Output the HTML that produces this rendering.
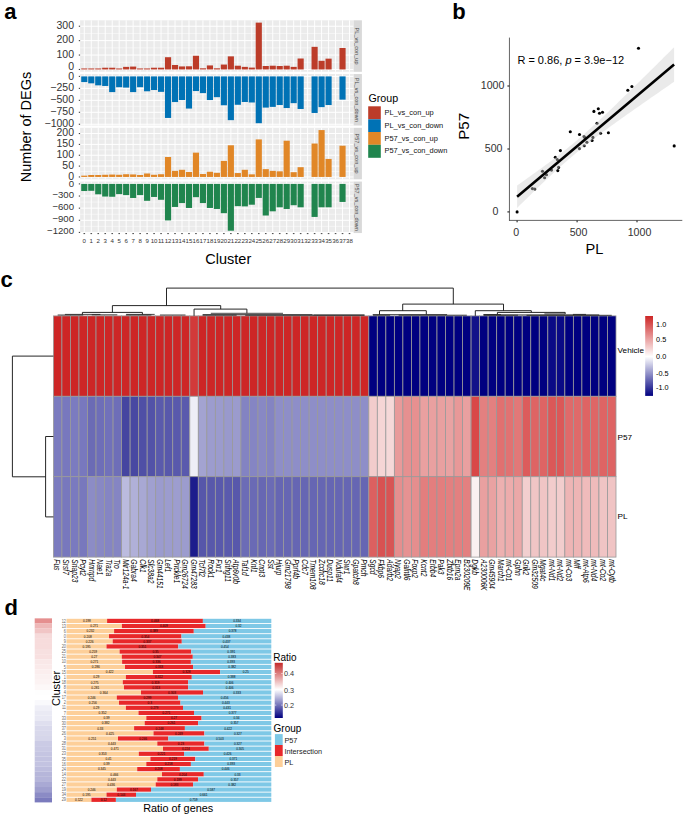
<!DOCTYPE html>
<html><head><meta charset="utf-8"><style>
html,body{margin:0;padding:0;background:#fff;}
svg{display:block;font-family:'Liberation Sans',sans-serif;}
</style></head><body>
<svg width="685" height="816" viewBox="0 0 685 816" style="font-family:'Liberation Sans',sans-serif">
<rect width="685" height="816" fill="#fff"/>
<rect x="80.1" y="20.3" width="273.6" height="51.5" fill="#EBEBEB"/>
<line x1="80.1" x2="353.7" y1="62.25" y2="62.25" stroke="#fff" stroke-width="0.5"/>
<line x1="80.1" x2="353.7" y1="47.84" y2="47.84" stroke="#fff" stroke-width="0.5"/>
<line x1="80.1" x2="353.7" y1="33.43" y2="33.43" stroke="#fff" stroke-width="0.5"/>
<line x1="80.1" x2="353.7" y1="69.46" y2="69.46" stroke="#fff" stroke-width="1.0"/>
<line x1="80.1" x2="353.7" y1="55.05" y2="55.05" stroke="#fff" stroke-width="1.0"/>
<line x1="80.1" x2="353.7" y1="40.64" y2="40.64" stroke="#fff" stroke-width="1.0"/>
<line x1="80.1" x2="353.7" y1="26.23" y2="26.23" stroke="#fff" stroke-width="1.0"/>
<line x1="84.29" x2="84.29" y1="20.3" y2="71.8" stroke="#fff" stroke-width="0.95"/>
<line x1="91.27" x2="91.27" y1="20.3" y2="71.8" stroke="#fff" stroke-width="0.95"/>
<line x1="98.25" x2="98.25" y1="20.3" y2="71.8" stroke="#fff" stroke-width="0.95"/>
<line x1="105.23" x2="105.23" y1="20.3" y2="71.8" stroke="#fff" stroke-width="0.95"/>
<line x1="112.21" x2="112.21" y1="20.3" y2="71.8" stroke="#fff" stroke-width="0.95"/>
<line x1="119.19" x2="119.19" y1="20.3" y2="71.8" stroke="#fff" stroke-width="0.95"/>
<line x1="126.17" x2="126.17" y1="20.3" y2="71.8" stroke="#fff" stroke-width="0.95"/>
<line x1="133.14" x2="133.14" y1="20.3" y2="71.8" stroke="#fff" stroke-width="0.95"/>
<line x1="140.12" x2="140.12" y1="20.3" y2="71.8" stroke="#fff" stroke-width="0.95"/>
<line x1="147.1" x2="147.1" y1="20.3" y2="71.8" stroke="#fff" stroke-width="0.95"/>
<line x1="154.08" x2="154.08" y1="20.3" y2="71.8" stroke="#fff" stroke-width="0.95"/>
<line x1="161.06" x2="161.06" y1="20.3" y2="71.8" stroke="#fff" stroke-width="0.95"/>
<line x1="168.04" x2="168.04" y1="20.3" y2="71.8" stroke="#fff" stroke-width="0.95"/>
<line x1="175.02" x2="175.02" y1="20.3" y2="71.8" stroke="#fff" stroke-width="0.95"/>
<line x1="182" x2="182" y1="20.3" y2="71.8" stroke="#fff" stroke-width="0.95"/>
<line x1="188.98" x2="188.98" y1="20.3" y2="71.8" stroke="#fff" stroke-width="0.95"/>
<line x1="195.96" x2="195.96" y1="20.3" y2="71.8" stroke="#fff" stroke-width="0.95"/>
<line x1="202.94" x2="202.94" y1="20.3" y2="71.8" stroke="#fff" stroke-width="0.95"/>
<line x1="209.92" x2="209.92" y1="20.3" y2="71.8" stroke="#fff" stroke-width="0.95"/>
<line x1="216.9" x2="216.9" y1="20.3" y2="71.8" stroke="#fff" stroke-width="0.95"/>
<line x1="223.88" x2="223.88" y1="20.3" y2="71.8" stroke="#fff" stroke-width="0.95"/>
<line x1="230.86" x2="230.86" y1="20.3" y2="71.8" stroke="#fff" stroke-width="0.95"/>
<line x1="237.84" x2="237.84" y1="20.3" y2="71.8" stroke="#fff" stroke-width="0.95"/>
<line x1="244.82" x2="244.82" y1="20.3" y2="71.8" stroke="#fff" stroke-width="0.95"/>
<line x1="251.8" x2="251.8" y1="20.3" y2="71.8" stroke="#fff" stroke-width="0.95"/>
<line x1="258.78" x2="258.78" y1="20.3" y2="71.8" stroke="#fff" stroke-width="0.95"/>
<line x1="265.76" x2="265.76" y1="20.3" y2="71.8" stroke="#fff" stroke-width="0.95"/>
<line x1="272.74" x2="272.74" y1="20.3" y2="71.8" stroke="#fff" stroke-width="0.95"/>
<line x1="279.72" x2="279.72" y1="20.3" y2="71.8" stroke="#fff" stroke-width="0.95"/>
<line x1="286.7" x2="286.7" y1="20.3" y2="71.8" stroke="#fff" stroke-width="0.95"/>
<line x1="293.68" x2="293.68" y1="20.3" y2="71.8" stroke="#fff" stroke-width="0.95"/>
<line x1="300.66" x2="300.66" y1="20.3" y2="71.8" stroke="#fff" stroke-width="0.95"/>
<line x1="307.63" x2="307.63" y1="20.3" y2="71.8" stroke="#fff" stroke-width="0.95"/>
<line x1="314.61" x2="314.61" y1="20.3" y2="71.8" stroke="#fff" stroke-width="0.95"/>
<line x1="321.59" x2="321.59" y1="20.3" y2="71.8" stroke="#fff" stroke-width="0.95"/>
<line x1="328.57" x2="328.57" y1="20.3" y2="71.8" stroke="#fff" stroke-width="0.95"/>
<line x1="335.55" x2="335.55" y1="20.3" y2="71.8" stroke="#fff" stroke-width="0.95"/>
<line x1="342.53" x2="342.53" y1="20.3" y2="71.8" stroke="#fff" stroke-width="0.95"/>
<line x1="349.51" x2="349.51" y1="20.3" y2="71.8" stroke="#fff" stroke-width="0.95"/>
<rect x="81.22" y="68.46" width="6.14" height="1" fill="#BC3C29"/>
<rect x="88.2" y="68.46" width="6.14" height="1" fill="#BC3C29"/>
<rect x="95.18" y="68.46" width="6.14" height="1" fill="#BC3C29"/>
<rect x="102.16" y="67.73" width="6.14" height="1.73" fill="#BC3C29"/>
<rect x="109.14" y="67.73" width="6.14" height="1.73" fill="#BC3C29"/>
<rect x="116.11" y="68.46" width="6.14" height="1" fill="#BC3C29"/>
<rect x="123.09" y="66.87" width="6.14" height="2.59" fill="#BC3C29"/>
<rect x="130.07" y="66.58" width="6.14" height="2.88" fill="#BC3C29"/>
<rect x="137.05" y="68.46" width="6.14" height="1" fill="#BC3C29"/>
<rect x="144.03" y="68.46" width="6.14" height="1" fill="#BC3C29"/>
<rect x="151.01" y="67.73" width="6.14" height="1.73" fill="#BC3C29"/>
<rect x="157.99" y="67.73" width="6.14" height="1.73" fill="#BC3C29"/>
<rect x="164.97" y="57.21" width="6.14" height="12.25" fill="#BC3C29"/>
<rect x="171.95" y="64.99" width="6.14" height="4.47" fill="#BC3C29"/>
<rect x="178.93" y="66.43" width="6.14" height="3.03" fill="#BC3C29"/>
<rect x="185.91" y="66.29" width="6.14" height="3.17" fill="#BC3C29"/>
<rect x="192.89" y="55.77" width="6.14" height="13.69" fill="#BC3C29"/>
<rect x="199.87" y="68.31" width="6.14" height="1.15" fill="#BC3C29"/>
<rect x="206.85" y="65.43" width="6.14" height="4.03" fill="#BC3C29"/>
<rect x="213.83" y="68.31" width="6.14" height="1.15" fill="#BC3C29"/>
<rect x="220.81" y="64.56" width="6.14" height="4.9" fill="#BC3C29"/>
<rect x="227.79" y="56.35" width="6.14" height="13.11" fill="#BC3C29"/>
<rect x="234.77" y="65.71" width="6.14" height="3.75" fill="#BC3C29"/>
<rect x="241.75" y="66.87" width="6.14" height="2.59" fill="#BC3C29"/>
<rect x="248.73" y="67.59" width="6.14" height="1.87" fill="#BC3C29"/>
<rect x="255.71" y="22.63" width="6.14" height="46.83" fill="#BC3C29"/>
<rect x="262.69" y="66" width="6.14" height="3.46" fill="#BC3C29"/>
<rect x="269.67" y="65.71" width="6.14" height="3.75" fill="#BC3C29"/>
<rect x="276.65" y="66" width="6.14" height="3.46" fill="#BC3C29"/>
<rect x="283.62" y="65.71" width="6.14" height="3.75" fill="#BC3C29"/>
<rect x="290.6" y="66.87" width="6.14" height="2.59" fill="#BC3C29"/>
<rect x="297.58" y="58.51" width="6.14" height="10.95" fill="#BC3C29"/>
<rect x="311.54" y="46.84" width="6.14" height="22.62" fill="#BC3C29"/>
<rect x="318.52" y="60.81" width="6.14" height="8.65" fill="#BC3C29"/>
<rect x="325.5" y="58.65" width="6.14" height="10.81" fill="#BC3C29"/>
<rect x="339.46" y="47.99" width="6.14" height="21.47" fill="#BC3C29"/>
<rect x="78.8" y="68.91" width="1.3" height="1.1" fill="#444"/>
<text x="74" y="70.23" font-size="10.5" text-anchor="end" fill="#333">0</text>
<rect x="78.8" y="54.5" width="1.3" height="1.1" fill="#444"/>
<text x="74" y="57.82" font-size="10.5" text-anchor="end" fill="#333">100</text>
<rect x="78.8" y="40.09" width="1.3" height="1.1" fill="#444"/>
<text x="74" y="43.41" font-size="10.5" text-anchor="end" fill="#333">200</text>
<rect x="78.8" y="25.68" width="1.3" height="1.1" fill="#444"/>
<text x="74" y="29" font-size="10.5" text-anchor="end" fill="#333">300</text>
<rect x="353.7" y="20.3" width="8.2" height="51.5" fill="#D9D9D9"/>
<text transform="translate(355.3,46.05) rotate(90) scale(1,1.1)" font-size="5.6" text-anchor="middle" fill="#4A4A4A">PL_vs_con_up</text>
<rect x="80.1" y="74.05" width="273.6" height="51.5" fill="#EBEBEB"/>
<line x1="80.1" x2="353.7" y1="82.37" y2="82.37" stroke="#fff" stroke-width="0.5"/>
<line x1="80.1" x2="353.7" y1="94.34" y2="94.34" stroke="#fff" stroke-width="0.5"/>
<line x1="80.1" x2="353.7" y1="106.31" y2="106.31" stroke="#fff" stroke-width="0.5"/>
<line x1="80.1" x2="353.7" y1="118.28" y2="118.28" stroke="#fff" stroke-width="0.5"/>
<line x1="80.1" x2="353.7" y1="76.39" y2="76.39" stroke="#fff" stroke-width="1.0"/>
<line x1="80.1" x2="353.7" y1="88.36" y2="88.36" stroke="#fff" stroke-width="1.0"/>
<line x1="80.1" x2="353.7" y1="100.33" y2="100.33" stroke="#fff" stroke-width="1.0"/>
<line x1="80.1" x2="353.7" y1="112.29" y2="112.29" stroke="#fff" stroke-width="1.0"/>
<line x1="80.1" x2="353.7" y1="124.26" y2="124.26" stroke="#fff" stroke-width="1.0"/>
<line x1="84.29" x2="84.29" y1="74.05" y2="125.55" stroke="#fff" stroke-width="0.95"/>
<line x1="91.27" x2="91.27" y1="74.05" y2="125.55" stroke="#fff" stroke-width="0.95"/>
<line x1="98.25" x2="98.25" y1="74.05" y2="125.55" stroke="#fff" stroke-width="0.95"/>
<line x1="105.23" x2="105.23" y1="74.05" y2="125.55" stroke="#fff" stroke-width="0.95"/>
<line x1="112.21" x2="112.21" y1="74.05" y2="125.55" stroke="#fff" stroke-width="0.95"/>
<line x1="119.19" x2="119.19" y1="74.05" y2="125.55" stroke="#fff" stroke-width="0.95"/>
<line x1="126.17" x2="126.17" y1="74.05" y2="125.55" stroke="#fff" stroke-width="0.95"/>
<line x1="133.14" x2="133.14" y1="74.05" y2="125.55" stroke="#fff" stroke-width="0.95"/>
<line x1="140.12" x2="140.12" y1="74.05" y2="125.55" stroke="#fff" stroke-width="0.95"/>
<line x1="147.1" x2="147.1" y1="74.05" y2="125.55" stroke="#fff" stroke-width="0.95"/>
<line x1="154.08" x2="154.08" y1="74.05" y2="125.55" stroke="#fff" stroke-width="0.95"/>
<line x1="161.06" x2="161.06" y1="74.05" y2="125.55" stroke="#fff" stroke-width="0.95"/>
<line x1="168.04" x2="168.04" y1="74.05" y2="125.55" stroke="#fff" stroke-width="0.95"/>
<line x1="175.02" x2="175.02" y1="74.05" y2="125.55" stroke="#fff" stroke-width="0.95"/>
<line x1="182" x2="182" y1="74.05" y2="125.55" stroke="#fff" stroke-width="0.95"/>
<line x1="188.98" x2="188.98" y1="74.05" y2="125.55" stroke="#fff" stroke-width="0.95"/>
<line x1="195.96" x2="195.96" y1="74.05" y2="125.55" stroke="#fff" stroke-width="0.95"/>
<line x1="202.94" x2="202.94" y1="74.05" y2="125.55" stroke="#fff" stroke-width="0.95"/>
<line x1="209.92" x2="209.92" y1="74.05" y2="125.55" stroke="#fff" stroke-width="0.95"/>
<line x1="216.9" x2="216.9" y1="74.05" y2="125.55" stroke="#fff" stroke-width="0.95"/>
<line x1="223.88" x2="223.88" y1="74.05" y2="125.55" stroke="#fff" stroke-width="0.95"/>
<line x1="230.86" x2="230.86" y1="74.05" y2="125.55" stroke="#fff" stroke-width="0.95"/>
<line x1="237.84" x2="237.84" y1="74.05" y2="125.55" stroke="#fff" stroke-width="0.95"/>
<line x1="244.82" x2="244.82" y1="74.05" y2="125.55" stroke="#fff" stroke-width="0.95"/>
<line x1="251.8" x2="251.8" y1="74.05" y2="125.55" stroke="#fff" stroke-width="0.95"/>
<line x1="258.78" x2="258.78" y1="74.05" y2="125.55" stroke="#fff" stroke-width="0.95"/>
<line x1="265.76" x2="265.76" y1="74.05" y2="125.55" stroke="#fff" stroke-width="0.95"/>
<line x1="272.74" x2="272.74" y1="74.05" y2="125.55" stroke="#fff" stroke-width="0.95"/>
<line x1="279.72" x2="279.72" y1="74.05" y2="125.55" stroke="#fff" stroke-width="0.95"/>
<line x1="286.7" x2="286.7" y1="74.05" y2="125.55" stroke="#fff" stroke-width="0.95"/>
<line x1="293.68" x2="293.68" y1="74.05" y2="125.55" stroke="#fff" stroke-width="0.95"/>
<line x1="300.66" x2="300.66" y1="74.05" y2="125.55" stroke="#fff" stroke-width="0.95"/>
<line x1="307.63" x2="307.63" y1="74.05" y2="125.55" stroke="#fff" stroke-width="0.95"/>
<line x1="314.61" x2="314.61" y1="74.05" y2="125.55" stroke="#fff" stroke-width="0.95"/>
<line x1="321.59" x2="321.59" y1="74.05" y2="125.55" stroke="#fff" stroke-width="0.95"/>
<line x1="328.57" x2="328.57" y1="74.05" y2="125.55" stroke="#fff" stroke-width="0.95"/>
<line x1="335.55" x2="335.55" y1="74.05" y2="125.55" stroke="#fff" stroke-width="0.95"/>
<line x1="342.53" x2="342.53" y1="74.05" y2="125.55" stroke="#fff" stroke-width="0.95"/>
<line x1="349.51" x2="349.51" y1="74.05" y2="125.55" stroke="#fff" stroke-width="0.95"/>
<rect x="81.22" y="76.39" width="6.14" height="5.7" fill="#0072B5"/>
<rect x="88.2" y="76.39" width="6.14" height="6.94" fill="#0072B5"/>
<rect x="95.18" y="76.39" width="6.14" height="8.95" fill="#0072B5"/>
<rect x="102.16" y="76.39" width="6.14" height="9.57" fill="#0072B5"/>
<rect x="109.14" y="76.39" width="6.14" height="15.7" fill="#0072B5"/>
<rect x="116.11" y="76.39" width="6.14" height="10.82" fill="#0072B5"/>
<rect x="123.09" y="76.39" width="6.14" height="11.2" fill="#0072B5"/>
<rect x="130.07" y="76.39" width="6.14" height="15.7" fill="#0072B5"/>
<rect x="137.05" y="76.39" width="6.14" height="10.82" fill="#0072B5"/>
<rect x="144.03" y="76.39" width="6.14" height="14.89" fill="#0072B5"/>
<rect x="151.01" y="76.39" width="6.14" height="13.64" fill="#0072B5"/>
<rect x="157.99" y="76.39" width="6.14" height="15.46" fill="#0072B5"/>
<rect x="164.97" y="76.39" width="6.14" height="41.55" fill="#0072B5"/>
<rect x="171.95" y="76.39" width="6.14" height="25.66" fill="#0072B5"/>
<rect x="178.93" y="76.39" width="6.14" height="23.65" fill="#0072B5"/>
<rect x="185.91" y="76.39" width="6.14" height="32.17" fill="#0072B5"/>
<rect x="192.89" y="76.39" width="6.14" height="14.65" fill="#0072B5"/>
<rect x="199.87" y="76.39" width="6.14" height="16.71" fill="#0072B5"/>
<rect x="206.85" y="76.39" width="6.14" height="23.65" fill="#0072B5"/>
<rect x="213.83" y="76.39" width="6.14" height="20.78" fill="#0072B5"/>
<rect x="220.81" y="76.39" width="6.14" height="28.87" fill="#0072B5"/>
<rect x="227.79" y="76.39" width="6.14" height="43.75" fill="#0072B5"/>
<rect x="234.77" y="76.39" width="6.14" height="28.39" fill="#0072B5"/>
<rect x="241.75" y="76.39" width="6.14" height="25.61" fill="#0072B5"/>
<rect x="248.73" y="76.39" width="6.14" height="26.09" fill="#0072B5"/>
<rect x="255.71" y="76.39" width="6.14" height="46.82" fill="#0072B5"/>
<rect x="262.69" y="76.39" width="6.14" height="31.21" fill="#0072B5"/>
<rect x="269.67" y="76.39" width="6.14" height="30.49" fill="#0072B5"/>
<rect x="276.65" y="76.39" width="6.14" height="28.63" fill="#0072B5"/>
<rect x="283.62" y="76.39" width="6.14" height="31.64" fill="#0072B5"/>
<rect x="290.6" y="76.39" width="6.14" height="26.76" fill="#0072B5"/>
<rect x="297.58" y="76.39" width="6.14" height="32.6" fill="#0072B5"/>
<rect x="311.54" y="76.39" width="6.14" height="36.57" fill="#0072B5"/>
<rect x="318.52" y="76.39" width="6.14" height="30.73" fill="#0072B5"/>
<rect x="325.5" y="76.39" width="6.14" height="28.63" fill="#0072B5"/>
<rect x="339.46" y="76.39" width="6.14" height="23.26" fill="#0072B5"/>
<rect x="78.8" y="75.84" width="1.3" height="1.1" fill="#444"/>
<text x="74" y="79.81" font-size="10.5" text-anchor="end" fill="#333">0</text>
<rect x="78.8" y="87.81" width="1.3" height="1.1" fill="#444"/>
<text x="74" y="91.13" font-size="10.5" text-anchor="end" fill="#333">−250</text>
<rect x="78.8" y="99.78" width="1.3" height="1.1" fill="#444"/>
<text x="74" y="103.1" font-size="10.5" text-anchor="end" fill="#333">−500</text>
<rect x="78.8" y="111.74" width="1.3" height="1.1" fill="#444"/>
<text x="74" y="115.06" font-size="10.5" text-anchor="end" fill="#333">−750</text>
<rect x="78.8" y="123.71" width="1.3" height="1.1" fill="#444"/>
<text x="74" y="127.03" font-size="10.5" text-anchor="end" fill="#333">−1000</text>
<rect x="353.7" y="74.05" width="8.2" height="51.5" fill="#D9D9D9"/>
<text transform="translate(355.3,99.8) rotate(90) scale(1,1.1)" font-size="5.6" text-anchor="middle" fill="#4A4A4A">PL_vs_con_down</text>
<rect x="80.1" y="127.8" width="273.6" height="51.5" fill="#EBEBEB"/>
<line x1="80.1" x2="353.7" y1="171.52" y2="171.52" stroke="#fff" stroke-width="0.5"/>
<line x1="80.1" x2="353.7" y1="160.67" y2="160.67" stroke="#fff" stroke-width="0.5"/>
<line x1="80.1" x2="353.7" y1="149.82" y2="149.82" stroke="#fff" stroke-width="0.5"/>
<line x1="80.1" x2="353.7" y1="138.97" y2="138.97" stroke="#fff" stroke-width="0.5"/>
<line x1="80.1" x2="353.7" y1="176.95" y2="176.95" stroke="#fff" stroke-width="1.0"/>
<line x1="80.1" x2="353.7" y1="166.1" y2="166.1" stroke="#fff" stroke-width="1.0"/>
<line x1="80.1" x2="353.7" y1="155.25" y2="155.25" stroke="#fff" stroke-width="1.0"/>
<line x1="80.1" x2="353.7" y1="144.4" y2="144.4" stroke="#fff" stroke-width="1.0"/>
<line x1="80.1" x2="353.7" y1="133.55" y2="133.55" stroke="#fff" stroke-width="1.0"/>
<line x1="84.29" x2="84.29" y1="127.8" y2="179.3" stroke="#fff" stroke-width="0.95"/>
<line x1="91.27" x2="91.27" y1="127.8" y2="179.3" stroke="#fff" stroke-width="0.95"/>
<line x1="98.25" x2="98.25" y1="127.8" y2="179.3" stroke="#fff" stroke-width="0.95"/>
<line x1="105.23" x2="105.23" y1="127.8" y2="179.3" stroke="#fff" stroke-width="0.95"/>
<line x1="112.21" x2="112.21" y1="127.8" y2="179.3" stroke="#fff" stroke-width="0.95"/>
<line x1="119.19" x2="119.19" y1="127.8" y2="179.3" stroke="#fff" stroke-width="0.95"/>
<line x1="126.17" x2="126.17" y1="127.8" y2="179.3" stroke="#fff" stroke-width="0.95"/>
<line x1="133.14" x2="133.14" y1="127.8" y2="179.3" stroke="#fff" stroke-width="0.95"/>
<line x1="140.12" x2="140.12" y1="127.8" y2="179.3" stroke="#fff" stroke-width="0.95"/>
<line x1="147.1" x2="147.1" y1="127.8" y2="179.3" stroke="#fff" stroke-width="0.95"/>
<line x1="154.08" x2="154.08" y1="127.8" y2="179.3" stroke="#fff" stroke-width="0.95"/>
<line x1="161.06" x2="161.06" y1="127.8" y2="179.3" stroke="#fff" stroke-width="0.95"/>
<line x1="168.04" x2="168.04" y1="127.8" y2="179.3" stroke="#fff" stroke-width="0.95"/>
<line x1="175.02" x2="175.02" y1="127.8" y2="179.3" stroke="#fff" stroke-width="0.95"/>
<line x1="182" x2="182" y1="127.8" y2="179.3" stroke="#fff" stroke-width="0.95"/>
<line x1="188.98" x2="188.98" y1="127.8" y2="179.3" stroke="#fff" stroke-width="0.95"/>
<line x1="195.96" x2="195.96" y1="127.8" y2="179.3" stroke="#fff" stroke-width="0.95"/>
<line x1="202.94" x2="202.94" y1="127.8" y2="179.3" stroke="#fff" stroke-width="0.95"/>
<line x1="209.92" x2="209.92" y1="127.8" y2="179.3" stroke="#fff" stroke-width="0.95"/>
<line x1="216.9" x2="216.9" y1="127.8" y2="179.3" stroke="#fff" stroke-width="0.95"/>
<line x1="223.88" x2="223.88" y1="127.8" y2="179.3" stroke="#fff" stroke-width="0.95"/>
<line x1="230.86" x2="230.86" y1="127.8" y2="179.3" stroke="#fff" stroke-width="0.95"/>
<line x1="237.84" x2="237.84" y1="127.8" y2="179.3" stroke="#fff" stroke-width="0.95"/>
<line x1="244.82" x2="244.82" y1="127.8" y2="179.3" stroke="#fff" stroke-width="0.95"/>
<line x1="251.8" x2="251.8" y1="127.8" y2="179.3" stroke="#fff" stroke-width="0.95"/>
<line x1="258.78" x2="258.78" y1="127.8" y2="179.3" stroke="#fff" stroke-width="0.95"/>
<line x1="265.76" x2="265.76" y1="127.8" y2="179.3" stroke="#fff" stroke-width="0.95"/>
<line x1="272.74" x2="272.74" y1="127.8" y2="179.3" stroke="#fff" stroke-width="0.95"/>
<line x1="279.72" x2="279.72" y1="127.8" y2="179.3" stroke="#fff" stroke-width="0.95"/>
<line x1="286.7" x2="286.7" y1="127.8" y2="179.3" stroke="#fff" stroke-width="0.95"/>
<line x1="293.68" x2="293.68" y1="127.8" y2="179.3" stroke="#fff" stroke-width="0.95"/>
<line x1="300.66" x2="300.66" y1="127.8" y2="179.3" stroke="#fff" stroke-width="0.95"/>
<line x1="307.63" x2="307.63" y1="127.8" y2="179.3" stroke="#fff" stroke-width="0.95"/>
<line x1="314.61" x2="314.61" y1="127.8" y2="179.3" stroke="#fff" stroke-width="0.95"/>
<line x1="321.59" x2="321.59" y1="127.8" y2="179.3" stroke="#fff" stroke-width="0.95"/>
<line x1="328.57" x2="328.57" y1="127.8" y2="179.3" stroke="#fff" stroke-width="0.95"/>
<line x1="335.55" x2="335.55" y1="127.8" y2="179.3" stroke="#fff" stroke-width="0.95"/>
<line x1="342.53" x2="342.53" y1="127.8" y2="179.3" stroke="#fff" stroke-width="0.95"/>
<line x1="349.51" x2="349.51" y1="127.8" y2="179.3" stroke="#fff" stroke-width="0.95"/>
<rect x="81.22" y="175.65" width="6.14" height="1.3" fill="#E18727"/>
<rect x="88.2" y="175" width="6.14" height="1.95" fill="#E18727"/>
<rect x="95.18" y="175" width="6.14" height="1.95" fill="#E18727"/>
<rect x="102.16" y="174.78" width="6.14" height="2.17" fill="#E18727"/>
<rect x="109.14" y="174.56" width="6.14" height="2.39" fill="#E18727"/>
<rect x="116.11" y="174.78" width="6.14" height="2.17" fill="#E18727"/>
<rect x="123.09" y="174.24" width="6.14" height="2.71" fill="#E18727"/>
<rect x="130.07" y="174.45" width="6.14" height="2.5" fill="#E18727"/>
<rect x="137.05" y="175" width="6.14" height="1.95" fill="#E18727"/>
<rect x="144.03" y="173.48" width="6.14" height="3.47" fill="#E18727"/>
<rect x="151.01" y="174.78" width="6.14" height="2.17" fill="#E18727"/>
<rect x="157.99" y="174.24" width="6.14" height="2.71" fill="#E18727"/>
<rect x="164.97" y="156.99" width="6.14" height="19.96" fill="#E18727"/>
<rect x="171.95" y="170.87" width="6.14" height="6.08" fill="#E18727"/>
<rect x="178.93" y="169.79" width="6.14" height="7.16" fill="#E18727"/>
<rect x="185.91" y="171.96" width="6.14" height="4.99" fill="#E18727"/>
<rect x="192.89" y="152.65" width="6.14" height="24.3" fill="#E18727"/>
<rect x="199.87" y="174.02" width="6.14" height="2.93" fill="#E18727"/>
<rect x="206.85" y="171.74" width="6.14" height="5.21" fill="#E18727"/>
<rect x="213.83" y="172.83" width="6.14" height="4.12" fill="#E18727"/>
<rect x="220.81" y="160.89" width="6.14" height="16.06" fill="#E18727"/>
<rect x="227.79" y="145.27" width="6.14" height="31.68" fill="#E18727"/>
<rect x="234.77" y="173.04" width="6.14" height="3.91" fill="#E18727"/>
<rect x="241.75" y="169.79" width="6.14" height="7.16" fill="#E18727"/>
<rect x="248.73" y="174.35" width="6.14" height="2.6" fill="#E18727"/>
<rect x="255.71" y="139.41" width="6.14" height="37.54" fill="#E18727"/>
<rect x="262.69" y="169.14" width="6.14" height="7.81" fill="#E18727"/>
<rect x="269.67" y="170.87" width="6.14" height="6.08" fill="#E18727"/>
<rect x="276.65" y="171.31" width="6.14" height="5.64" fill="#E18727"/>
<rect x="283.62" y="140.71" width="6.14" height="36.24" fill="#E18727"/>
<rect x="290.6" y="172.18" width="6.14" height="4.77" fill="#E18727"/>
<rect x="297.58" y="167.19" width="6.14" height="9.77" fill="#E18727"/>
<rect x="311.54" y="143.53" width="6.14" height="33.42" fill="#E18727"/>
<rect x="318.52" y="130.08" width="6.14" height="46.87" fill="#E18727"/>
<rect x="325.5" y="158.94" width="6.14" height="18.01" fill="#E18727"/>
<rect x="339.46" y="145.7" width="6.14" height="31.25" fill="#E18727"/>
<rect x="78.8" y="176.4" width="1.3" height="1.1" fill="#444"/>
<text x="74" y="179.72" font-size="10.5" text-anchor="end" fill="#333">0</text>
<rect x="78.8" y="165.55" width="1.3" height="1.1" fill="#444"/>
<text x="74" y="168.87" font-size="10.5" text-anchor="end" fill="#333">50</text>
<rect x="78.8" y="154.7" width="1.3" height="1.1" fill="#444"/>
<text x="74" y="158.02" font-size="10.5" text-anchor="end" fill="#333">100</text>
<rect x="78.8" y="143.85" width="1.3" height="1.1" fill="#444"/>
<text x="74" y="147.17" font-size="10.5" text-anchor="end" fill="#333">150</text>
<rect x="78.8" y="133" width="1.3" height="1.1" fill="#444"/>
<text x="74" y="136.32" font-size="10.5" text-anchor="end" fill="#333">200</text>
<rect x="353.7" y="127.8" width="8.2" height="51.5" fill="#D9D9D9"/>
<text transform="translate(355.3,153.55) rotate(90) scale(1,1.1)" font-size="5.6" text-anchor="middle" fill="#4A4A4A">P57_vs_con_up</text>
<rect x="80.1" y="181.55" width="273.6" height="51.5" fill="#EBEBEB"/>
<line x1="80.1" x2="353.7" y1="189.96" y2="189.96" stroke="#fff" stroke-width="0.5"/>
<line x1="80.1" x2="353.7" y1="202.09" y2="202.09" stroke="#fff" stroke-width="0.5"/>
<line x1="80.1" x2="353.7" y1="214.22" y2="214.22" stroke="#fff" stroke-width="0.5"/>
<line x1="80.1" x2="353.7" y1="226.35" y2="226.35" stroke="#fff" stroke-width="0.5"/>
<line x1="80.1" x2="353.7" y1="183.9" y2="183.9" stroke="#fff" stroke-width="1.0"/>
<line x1="80.1" x2="353.7" y1="196.03" y2="196.03" stroke="#fff" stroke-width="1.0"/>
<line x1="80.1" x2="353.7" y1="208.16" y2="208.16" stroke="#fff" stroke-width="1.0"/>
<line x1="80.1" x2="353.7" y1="220.29" y2="220.29" stroke="#fff" stroke-width="1.0"/>
<line x1="80.1" x2="353.7" y1="232.42" y2="232.42" stroke="#fff" stroke-width="1.0"/>
<line x1="84.29" x2="84.29" y1="181.55" y2="233.05" stroke="#fff" stroke-width="0.95"/>
<line x1="91.27" x2="91.27" y1="181.55" y2="233.05" stroke="#fff" stroke-width="0.95"/>
<line x1="98.25" x2="98.25" y1="181.55" y2="233.05" stroke="#fff" stroke-width="0.95"/>
<line x1="105.23" x2="105.23" y1="181.55" y2="233.05" stroke="#fff" stroke-width="0.95"/>
<line x1="112.21" x2="112.21" y1="181.55" y2="233.05" stroke="#fff" stroke-width="0.95"/>
<line x1="119.19" x2="119.19" y1="181.55" y2="233.05" stroke="#fff" stroke-width="0.95"/>
<line x1="126.17" x2="126.17" y1="181.55" y2="233.05" stroke="#fff" stroke-width="0.95"/>
<line x1="133.14" x2="133.14" y1="181.55" y2="233.05" stroke="#fff" stroke-width="0.95"/>
<line x1="140.12" x2="140.12" y1="181.55" y2="233.05" stroke="#fff" stroke-width="0.95"/>
<line x1="147.1" x2="147.1" y1="181.55" y2="233.05" stroke="#fff" stroke-width="0.95"/>
<line x1="154.08" x2="154.08" y1="181.55" y2="233.05" stroke="#fff" stroke-width="0.95"/>
<line x1="161.06" x2="161.06" y1="181.55" y2="233.05" stroke="#fff" stroke-width="0.95"/>
<line x1="168.04" x2="168.04" y1="181.55" y2="233.05" stroke="#fff" stroke-width="0.95"/>
<line x1="175.02" x2="175.02" y1="181.55" y2="233.05" stroke="#fff" stroke-width="0.95"/>
<line x1="182" x2="182" y1="181.55" y2="233.05" stroke="#fff" stroke-width="0.95"/>
<line x1="188.98" x2="188.98" y1="181.55" y2="233.05" stroke="#fff" stroke-width="0.95"/>
<line x1="195.96" x2="195.96" y1="181.55" y2="233.05" stroke="#fff" stroke-width="0.95"/>
<line x1="202.94" x2="202.94" y1="181.55" y2="233.05" stroke="#fff" stroke-width="0.95"/>
<line x1="209.92" x2="209.92" y1="181.55" y2="233.05" stroke="#fff" stroke-width="0.95"/>
<line x1="216.9" x2="216.9" y1="181.55" y2="233.05" stroke="#fff" stroke-width="0.95"/>
<line x1="223.88" x2="223.88" y1="181.55" y2="233.05" stroke="#fff" stroke-width="0.95"/>
<line x1="230.86" x2="230.86" y1="181.55" y2="233.05" stroke="#fff" stroke-width="0.95"/>
<line x1="237.84" x2="237.84" y1="181.55" y2="233.05" stroke="#fff" stroke-width="0.95"/>
<line x1="244.82" x2="244.82" y1="181.55" y2="233.05" stroke="#fff" stroke-width="0.95"/>
<line x1="251.8" x2="251.8" y1="181.55" y2="233.05" stroke="#fff" stroke-width="0.95"/>
<line x1="258.78" x2="258.78" y1="181.55" y2="233.05" stroke="#fff" stroke-width="0.95"/>
<line x1="265.76" x2="265.76" y1="181.55" y2="233.05" stroke="#fff" stroke-width="0.95"/>
<line x1="272.74" x2="272.74" y1="181.55" y2="233.05" stroke="#fff" stroke-width="0.95"/>
<line x1="279.72" x2="279.72" y1="181.55" y2="233.05" stroke="#fff" stroke-width="0.95"/>
<line x1="286.7" x2="286.7" y1="181.55" y2="233.05" stroke="#fff" stroke-width="0.95"/>
<line x1="293.68" x2="293.68" y1="181.55" y2="233.05" stroke="#fff" stroke-width="0.95"/>
<line x1="300.66" x2="300.66" y1="181.55" y2="233.05" stroke="#fff" stroke-width="0.95"/>
<line x1="307.63" x2="307.63" y1="181.55" y2="233.05" stroke="#fff" stroke-width="0.95"/>
<line x1="314.61" x2="314.61" y1="181.55" y2="233.05" stroke="#fff" stroke-width="0.95"/>
<line x1="321.59" x2="321.59" y1="181.55" y2="233.05" stroke="#fff" stroke-width="0.95"/>
<line x1="328.57" x2="328.57" y1="181.55" y2="233.05" stroke="#fff" stroke-width="0.95"/>
<line x1="335.55" x2="335.55" y1="181.55" y2="233.05" stroke="#fff" stroke-width="0.95"/>
<line x1="342.53" x2="342.53" y1="181.55" y2="233.05" stroke="#fff" stroke-width="0.95"/>
<line x1="349.51" x2="349.51" y1="181.55" y2="233.05" stroke="#fff" stroke-width="0.95"/>
<rect x="81.22" y="183.9" width="6.14" height="7.12" fill="#20854E"/>
<rect x="88.2" y="183.9" width="6.14" height="6.91" fill="#20854E"/>
<rect x="95.18" y="183.9" width="6.14" height="10.39" fill="#20854E"/>
<rect x="102.16" y="183.9" width="6.14" height="12.65" fill="#20854E"/>
<rect x="109.14" y="183.9" width="6.14" height="12.86" fill="#20854E"/>
<rect x="116.11" y="183.9" width="6.14" height="10.19" fill="#20854E"/>
<rect x="123.09" y="183.9" width="6.14" height="11.2" fill="#20854E"/>
<rect x="130.07" y="183.9" width="6.14" height="14.07" fill="#20854E"/>
<rect x="137.05" y="183.9" width="6.14" height="11.2" fill="#20854E"/>
<rect x="144.03" y="183.9" width="6.14" height="16.9" fill="#20854E"/>
<rect x="151.01" y="183.9" width="6.14" height="13.06" fill="#20854E"/>
<rect x="157.99" y="183.9" width="6.14" height="15.89" fill="#20854E"/>
<rect x="164.97" y="183.9" width="6.14" height="36.51" fill="#20854E"/>
<rect x="171.95" y="183.9" width="6.14" height="23.05" fill="#20854E"/>
<rect x="178.93" y="183.9" width="6.14" height="19.16" fill="#20854E"/>
<rect x="185.91" y="183.9" width="6.14" height="24.06" fill="#20854E"/>
<rect x="192.89" y="183.9" width="6.14" height="13.26" fill="#20854E"/>
<rect x="199.87" y="183.9" width="6.14" height="19.16" fill="#20854E"/>
<rect x="206.85" y="183.9" width="6.14" height="24.06" fill="#20854E"/>
<rect x="213.83" y="183.9" width="6.14" height="25.07" fill="#20854E"/>
<rect x="220.81" y="183.9" width="6.14" height="29.27" fill="#20854E"/>
<rect x="227.79" y="183.9" width="6.14" height="46.82" fill="#20854E"/>
<rect x="234.77" y="183.9" width="6.14" height="22.24" fill="#20854E"/>
<rect x="241.75" y="183.9" width="6.14" height="22.48" fill="#20854E"/>
<rect x="248.73" y="183.9" width="6.14" height="20.82" fill="#20854E"/>
<rect x="255.71" y="183.9" width="6.14" height="14.03" fill="#20854E"/>
<rect x="262.69" y="183.9" width="6.14" height="31.62" fill="#20854E"/>
<rect x="269.67" y="183.9" width="6.14" height="27.41" fill="#20854E"/>
<rect x="276.65" y="183.9" width="6.14" height="23.41" fill="#20854E"/>
<rect x="283.62" y="183.9" width="6.14" height="25.07" fill="#20854E"/>
<rect x="290.6" y="183.9" width="6.14" height="21.31" fill="#20854E"/>
<rect x="297.58" y="183.9" width="6.14" height="23.41" fill="#20854E"/>
<rect x="311.54" y="183.9" width="6.14" height="33.03" fill="#20854E"/>
<rect x="318.52" y="183.9" width="6.14" height="23.41" fill="#20854E"/>
<rect x="325.5" y="183.9" width="6.14" height="23.41" fill="#20854E"/>
<rect x="339.46" y="183.9" width="6.14" height="18.03" fill="#20854E"/>
<rect x="78.8" y="183.35" width="1.3" height="1.1" fill="#444"/>
<text x="74" y="186.93" font-size="9.6" text-anchor="end" fill="#333">0</text>
<rect x="78.8" y="195.48" width="1.3" height="1.1" fill="#444"/>
<text x="74" y="197.76" font-size="9.6" text-anchor="end" fill="#333">−300</text>
<rect x="78.8" y="207.61" width="1.3" height="1.1" fill="#444"/>
<text x="74" y="209.89" font-size="9.6" text-anchor="end" fill="#333">−600</text>
<rect x="78.8" y="219.74" width="1.3" height="1.1" fill="#444"/>
<text x="74" y="222.02" font-size="9.6" text-anchor="end" fill="#333">−900</text>
<rect x="78.8" y="231.87" width="1.3" height="1.1" fill="#444"/>
<text x="74" y="234.15" font-size="9.6" text-anchor="end" fill="#333">−1200</text>
<rect x="353.7" y="181.55" width="8.2" height="51.5" fill="#D9D9D9"/>
<text transform="translate(355.3,207.3) rotate(90) scale(1,1.1)" font-size="5.6" text-anchor="middle" fill="#4A4A4A">P57_vs_con_down</text>
<rect x="83.49" y="233.1" width="1.6" height="1.0" fill="#444"/>
<text x="84.29" y="243.1" font-size="6.1" text-anchor="middle" fill="#333">0</text>
<rect x="90.47" y="233.1" width="1.6" height="1.0" fill="#444"/>
<text x="91.27" y="243.1" font-size="6.1" text-anchor="middle" fill="#333">1</text>
<rect x="97.45" y="233.1" width="1.6" height="1.0" fill="#444"/>
<text x="98.25" y="243.1" font-size="6.1" text-anchor="middle" fill="#333">2</text>
<rect x="104.43" y="233.1" width="1.6" height="1.0" fill="#444"/>
<text x="105.23" y="243.1" font-size="6.1" text-anchor="middle" fill="#333">3</text>
<rect x="111.41" y="233.1" width="1.6" height="1.0" fill="#444"/>
<text x="112.21" y="243.1" font-size="6.1" text-anchor="middle" fill="#333">4</text>
<rect x="118.39" y="233.1" width="1.6" height="1.0" fill="#444"/>
<text x="119.19" y="243.1" font-size="6.1" text-anchor="middle" fill="#333">5</text>
<rect x="125.37" y="233.1" width="1.6" height="1.0" fill="#444"/>
<text x="126.17" y="243.1" font-size="6.1" text-anchor="middle" fill="#333">6</text>
<rect x="132.34" y="233.1" width="1.6" height="1.0" fill="#444"/>
<text x="133.14" y="243.1" font-size="6.1" text-anchor="middle" fill="#333">7</text>
<rect x="139.32" y="233.1" width="1.6" height="1.0" fill="#444"/>
<text x="140.12" y="243.1" font-size="6.1" text-anchor="middle" fill="#333">8</text>
<rect x="146.3" y="233.1" width="1.6" height="1.0" fill="#444"/>
<text x="147.1" y="243.1" font-size="6.1" text-anchor="middle" fill="#333">9</text>
<rect x="153.28" y="233.1" width="1.6" height="1.0" fill="#444"/>
<text x="154.08" y="243.1" font-size="6.1" text-anchor="middle" fill="#333">10</text>
<rect x="160.26" y="233.1" width="1.6" height="1.0" fill="#444"/>
<text x="161.06" y="243.1" font-size="6.1" text-anchor="middle" fill="#333">11</text>
<rect x="167.24" y="233.1" width="1.6" height="1.0" fill="#444"/>
<text x="168.04" y="243.1" font-size="6.1" text-anchor="middle" fill="#333">12</text>
<rect x="174.22" y="233.1" width="1.6" height="1.0" fill="#444"/>
<text x="175.02" y="243.1" font-size="6.1" text-anchor="middle" fill="#333">13</text>
<rect x="181.2" y="233.1" width="1.6" height="1.0" fill="#444"/>
<text x="182" y="243.1" font-size="6.1" text-anchor="middle" fill="#333">14</text>
<rect x="188.18" y="233.1" width="1.6" height="1.0" fill="#444"/>
<text x="188.98" y="243.1" font-size="6.1" text-anchor="middle" fill="#333">15</text>
<rect x="195.16" y="233.1" width="1.6" height="1.0" fill="#444"/>
<text x="195.96" y="243.1" font-size="6.1" text-anchor="middle" fill="#333">16</text>
<rect x="202.14" y="233.1" width="1.6" height="1.0" fill="#444"/>
<text x="202.94" y="243.1" font-size="6.1" text-anchor="middle" fill="#333">17</text>
<rect x="209.12" y="233.1" width="1.6" height="1.0" fill="#444"/>
<text x="209.92" y="243.1" font-size="6.1" text-anchor="middle" fill="#333">18</text>
<rect x="216.1" y="233.1" width="1.6" height="1.0" fill="#444"/>
<text x="216.9" y="243.1" font-size="6.1" text-anchor="middle" fill="#333">19</text>
<rect x="223.08" y="233.1" width="1.6" height="1.0" fill="#444"/>
<text x="223.88" y="243.1" font-size="6.1" text-anchor="middle" fill="#333">20</text>
<rect x="230.06" y="233.1" width="1.6" height="1.0" fill="#444"/>
<text x="230.86" y="243.1" font-size="6.1" text-anchor="middle" fill="#333">21</text>
<rect x="237.04" y="233.1" width="1.6" height="1.0" fill="#444"/>
<text x="237.84" y="243.1" font-size="6.1" text-anchor="middle" fill="#333">22</text>
<rect x="244.02" y="233.1" width="1.6" height="1.0" fill="#444"/>
<text x="244.82" y="243.1" font-size="6.1" text-anchor="middle" fill="#333">23</text>
<rect x="251" y="233.1" width="1.6" height="1.0" fill="#444"/>
<text x="251.8" y="243.1" font-size="6.1" text-anchor="middle" fill="#333">24</text>
<rect x="257.98" y="233.1" width="1.6" height="1.0" fill="#444"/>
<text x="258.78" y="243.1" font-size="6.1" text-anchor="middle" fill="#333">25</text>
<rect x="264.96" y="233.1" width="1.6" height="1.0" fill="#444"/>
<text x="265.76" y="243.1" font-size="6.1" text-anchor="middle" fill="#333">26</text>
<rect x="271.94" y="233.1" width="1.6" height="1.0" fill="#444"/>
<text x="272.74" y="243.1" font-size="6.1" text-anchor="middle" fill="#333">27</text>
<rect x="278.92" y="233.1" width="1.6" height="1.0" fill="#444"/>
<text x="279.72" y="243.1" font-size="6.1" text-anchor="middle" fill="#333">28</text>
<rect x="285.9" y="233.1" width="1.6" height="1.0" fill="#444"/>
<text x="286.7" y="243.1" font-size="6.1" text-anchor="middle" fill="#333">29</text>
<rect x="292.88" y="233.1" width="1.6" height="1.0" fill="#444"/>
<text x="293.68" y="243.1" font-size="6.1" text-anchor="middle" fill="#333">30</text>
<rect x="299.86" y="233.1" width="1.6" height="1.0" fill="#444"/>
<text x="300.66" y="243.1" font-size="6.1" text-anchor="middle" fill="#333">31</text>
<rect x="306.83" y="233.1" width="1.6" height="1.0" fill="#444"/>
<text x="307.63" y="243.1" font-size="6.1" text-anchor="middle" fill="#333">32</text>
<rect x="313.81" y="233.1" width="1.6" height="1.0" fill="#444"/>
<text x="314.61" y="243.1" font-size="6.1" text-anchor="middle" fill="#333">33</text>
<rect x="320.79" y="233.1" width="1.6" height="1.0" fill="#444"/>
<text x="321.59" y="243.1" font-size="6.1" text-anchor="middle" fill="#333">34</text>
<rect x="327.77" y="233.1" width="1.6" height="1.0" fill="#444"/>
<text x="328.57" y="243.1" font-size="6.1" text-anchor="middle" fill="#333">35</text>
<rect x="334.75" y="233.1" width="1.6" height="1.0" fill="#444"/>
<text x="335.55" y="243.1" font-size="6.1" text-anchor="middle" fill="#333">36</text>
<rect x="341.73" y="233.1" width="1.6" height="1.0" fill="#444"/>
<text x="342.53" y="243.1" font-size="6.1" text-anchor="middle" fill="#333">37</text>
<rect x="348.71" y="233.1" width="1.6" height="1.0" fill="#444"/>
<text x="349.51" y="243.1" font-size="6.1" text-anchor="middle" fill="#333">38</text>
<text x="228.3" y="263.6" font-size="14.5" text-anchor="middle" fill="#000">Cluster</text>
<text transform="translate(31.4,127.0) rotate(-90)" font-size="14.5" text-anchor="middle" fill="#000">Number of DEGs</text>
<text x="368.4" y="101.9" font-size="10.7" fill="#000">Group</text>
<rect x="368.2" y="106.3" width="12.6" height="13" fill="#BC3C29"/>
<text x="384.5" y="114.9" font-size="7.45" fill="#111">PL_vs_con_up</text>
<rect x="368.2" y="119.3" width="12.6" height="12.7" fill="#0072B5"/>
<text x="384.5" y="127.75" font-size="7.45" fill="#111">PL_vs_con_down</text>
<rect x="368.2" y="132" width="12.6" height="12.8" fill="#E18727"/>
<text x="384.5" y="140.5" font-size="7.45" fill="#111">P57_vs_con_up</text>
<rect x="368.2" y="144.8" width="12.6" height="13" fill="#20854E"/>
<text x="384.5" y="153.4" font-size="7.45" fill="#111">P57_vs_con_down</text>
<g>
<circle cx="517.1" cy="211.9" r="1.55" fill="#000"/>
<circle cx="532.4" cy="188.6" r="1.55" fill="#000"/>
<circle cx="534.8" cy="189.1" r="1.55" fill="#000"/>
<circle cx="542.5" cy="171.3" r="1.55" fill="#000"/>
<circle cx="544.6" cy="177.8" r="1.55" fill="#000"/>
<circle cx="546.5" cy="174.8" r="1.55" fill="#000"/>
<circle cx="551.5" cy="170.1" r="1.55" fill="#000"/>
<circle cx="555.3" cy="157.2" r="1.55" fill="#000"/>
<circle cx="557.3" cy="159.5" r="1.55" fill="#000"/>
<circle cx="558.6" cy="167.4" r="1.55" fill="#000"/>
<circle cx="557.8" cy="170.6" r="1.55" fill="#000"/>
<circle cx="560.4" cy="150.6" r="1.55" fill="#000"/>
<circle cx="570.3" cy="131.7" r="1.55" fill="#000"/>
<circle cx="579.5" cy="134.5" r="1.55" fill="#000"/>
<circle cx="579.4" cy="148.6" r="1.55" fill="#000"/>
<circle cx="584" cy="136.5" r="1.55" fill="#000"/>
<circle cx="584.8" cy="137.6" r="1.55" fill="#000"/>
<circle cx="584.2" cy="145.7" r="1.55" fill="#000"/>
<circle cx="586.9" cy="142.2" r="1.55" fill="#000"/>
<circle cx="592.9" cy="137.4" r="1.55" fill="#000"/>
<circle cx="592.1" cy="140.5" r="1.55" fill="#000"/>
<circle cx="593.9" cy="111.4" r="1.55" fill="#000"/>
<circle cx="598.3" cy="108.8" r="1.55" fill="#000"/>
<circle cx="599.5" cy="113.3" r="1.55" fill="#000"/>
<circle cx="602.5" cy="112.2" r="1.55" fill="#000"/>
<circle cx="597" cy="123.3" r="1.55" fill="#000"/>
<circle cx="600.6" cy="133.3" r="1.55" fill="#000"/>
<circle cx="608.4" cy="132.7" r="1.55" fill="#000"/>
<circle cx="627.8" cy="90.3" r="1.55" fill="#000"/>
<circle cx="631.9" cy="86.5" r="1.55" fill="#000"/>
<circle cx="638.5" cy="48.2" r="1.55" fill="#000"/>
<circle cx="674.2" cy="145.9" r="1.55" fill="#000"/>
<polygon points="517.1,185.52 519.72,183.67 522.33,181.82 524.95,179.97 527.57,178.1 530.18,176.24 532.8,174.36 535.42,172.47 538.03,170.58 540.65,168.67 543.27,166.75 545.88,164.82 548.5,162.88 551.12,160.91 553.73,158.93 556.35,156.93 558.97,154.91 561.58,152.87 564.2,150.79 566.82,148.7 569.43,146.57 572.05,144.41 574.67,142.23 577.28,140.01 579.9,137.76 582.52,135.49 585.13,133.18 587.75,130.85 590.37,128.49 592.98,126.11 595.6,123.7 598.22,121.28 600.83,118.84 603.45,116.38 606.07,113.9 608.68,111.41 611.3,108.92 613.92,106.4 616.53,103.88 619.15,101.36 621.77,98.82 624.38,96.27 627,93.72 629.62,91.17 632.23,88.61 634.85,86.04 637.47,83.47 640.08,80.89 642.7,78.32 645.32,75.73 647.93,73.15 650.55,70.56 653.17,67.97 655.78,65.38 658.4,62.79 661.02,60.19 663.63,57.59 666.25,54.99 668.87,52.39 671.48,49.79 674.1,47.18 674.1,81.82 671.48,83.62 668.87,85.42 666.25,87.23 663.63,89.04 661.02,90.84 658.4,92.65 655.78,94.47 653.17,96.28 650.55,98.1 647.93,99.92 645.32,101.74 642.7,103.56 640.08,105.39 637.47,107.22 634.85,109.06 632.23,110.9 629.62,112.75 627,114.6 624.38,116.45 621.77,118.31 619.15,120.18 616.53,122.06 613.92,123.95 611.3,125.84 608.68,127.75 606.07,129.67 603.45,131.6 600.83,133.55 598.22,135.52 595.6,137.5 592.98,139.5 590.37,141.52 587.75,143.57 585.13,145.65 582.52,147.75 579.9,149.88 577.28,152.04 574.67,154.23 572.05,156.45 569.43,158.7 566.82,160.98 564.2,163.29 561.58,165.62 558.97,167.98 556.35,170.37 553.73,172.77 551.12,175.2 548.5,177.64 545.88,180.1 543.27,182.58 540.65,185.07 538.03,187.57 535.42,190.08 532.8,192.6 530.18,195.13 527.57,197.67 524.95,200.21 522.33,202.77 519.72,205.32 517.1,207.88" fill="#CCCCCC" fill-opacity="0.42"/>
<line x1="517.1" y1="196.7" x2="674.1" y2="64.5" stroke="#000" stroke-width="2.6"/>
<line x1="509.45" y1="37.6" x2="509.45" y2="220.85" stroke="#555" stroke-width="0.9"/>
<line x1="509" y1="220.4" x2="682.3" y2="220.4" stroke="#555" stroke-width="0.9"/>
<rect x="507.4" y="211.3" width="2.1" height="1.2" fill="#333"/>
<text x="498.4" y="214.8" font-size="10.6" text-anchor="end" fill="#333">0</text>
<rect x="507.4" y="148.4" width="2.1" height="1.2" fill="#333"/>
<text x="502.5" y="151.9" font-size="10.6" text-anchor="end" fill="#333">500</text>
<rect x="507.4" y="85.4" width="2.1" height="1.2" fill="#333"/>
<text x="504.4" y="88.9" font-size="10.6" text-anchor="end" fill="#333">1000</text>
<rect x="516.5" y="220.4" width="1.2" height="1.9" fill="#333"/>
<text x="516.1" y="236.2" font-size="10.6" text-anchor="middle" fill="#333">0</text>
<rect x="576.5" y="220.4" width="1.2" height="1.9" fill="#333"/>
<text x="578.5" y="236.2" font-size="10.6" text-anchor="middle" fill="#333">500</text>
<rect x="636.4" y="220.4" width="1.2" height="1.9" fill="#333"/>
<text x="639.5" y="236.2" font-size="10.6" text-anchor="middle" fill="#333">1000</text>
<text x="594.4" y="253.8" font-size="14.6" text-anchor="middle" fill="#000">PL</text>
<text transform="translate(469.2,126.4) rotate(-90)" font-size="15.1" text-anchor="middle" fill="#000">P57</text>
<text x="517.4" y="64.3" font-size="11.0" fill="#000">R = 0.86, <tspan font-style="italic">p</tspan> = 3.9e−12</text>
</g>
<rect x="53.4" y="315.9" width="8.52" height="80.4" fill="#CD2626" stroke="#9A9A9A" stroke-width="0.8"/>
<rect x="61.92" y="315.9" width="8.52" height="80.4" fill="#CD2626" stroke="#9A9A9A" stroke-width="0.8"/>
<rect x="70.45" y="315.9" width="8.52" height="80.4" fill="#CD2626" stroke="#9A9A9A" stroke-width="0.8"/>
<rect x="78.97" y="315.9" width="8.52" height="80.4" fill="#CD2626" stroke="#9A9A9A" stroke-width="0.8"/>
<rect x="87.5" y="315.9" width="8.52" height="80.4" fill="#CD2626" stroke="#9A9A9A" stroke-width="0.8"/>
<rect x="96.02" y="315.9" width="8.52" height="80.4" fill="#CD2626" stroke="#9A9A9A" stroke-width="0.8"/>
<rect x="104.55" y="315.9" width="8.52" height="80.4" fill="#CD2626" stroke="#9A9A9A" stroke-width="0.8"/>
<rect x="113.07" y="315.9" width="8.52" height="80.4" fill="#CD2626" stroke="#9A9A9A" stroke-width="0.8"/>
<rect x="121.59" y="315.9" width="8.52" height="80.4" fill="#CD2626" stroke="#9A9A9A" stroke-width="0.8"/>
<rect x="130.12" y="315.9" width="8.52" height="80.4" fill="#CD2626" stroke="#9A9A9A" stroke-width="0.8"/>
<rect x="138.64" y="315.9" width="8.52" height="80.4" fill="#CD2626" stroke="#9A9A9A" stroke-width="0.8"/>
<rect x="147.17" y="315.9" width="8.52" height="80.4" fill="#CD2626" stroke="#9A9A9A" stroke-width="0.8"/>
<rect x="155.69" y="315.9" width="8.52" height="80.4" fill="#CD2626" stroke="#9A9A9A" stroke-width="0.8"/>
<rect x="164.22" y="315.9" width="8.52" height="80.4" fill="#CD2626" stroke="#9A9A9A" stroke-width="0.8"/>
<rect x="172.74" y="315.9" width="8.52" height="80.4" fill="#CD2626" stroke="#9A9A9A" stroke-width="0.8"/>
<rect x="181.26" y="315.9" width="8.52" height="80.4" fill="#CD2626" stroke="#9A9A9A" stroke-width="0.8"/>
<rect x="189.79" y="315.9" width="8.52" height="80.4" fill="#D23A3A" stroke="#9A9A9A" stroke-width="0.8"/>
<rect x="198.31" y="315.9" width="8.52" height="80.4" fill="#CD2626" stroke="#9A9A9A" stroke-width="0.8"/>
<rect x="206.84" y="315.9" width="8.52" height="80.4" fill="#CD2626" stroke="#9A9A9A" stroke-width="0.8"/>
<rect x="215.36" y="315.9" width="8.52" height="80.4" fill="#CD2626" stroke="#9A9A9A" stroke-width="0.8"/>
<rect x="223.88" y="315.9" width="8.52" height="80.4" fill="#CD2626" stroke="#9A9A9A" stroke-width="0.8"/>
<rect x="232.41" y="315.9" width="8.52" height="80.4" fill="#CD2626" stroke="#9A9A9A" stroke-width="0.8"/>
<rect x="240.93" y="315.9" width="8.52" height="80.4" fill="#CD2626" stroke="#9A9A9A" stroke-width="0.8"/>
<rect x="249.46" y="315.9" width="8.52" height="80.4" fill="#CD2626" stroke="#9A9A9A" stroke-width="0.8"/>
<rect x="257.98" y="315.9" width="8.52" height="80.4" fill="#CD2626" stroke="#9A9A9A" stroke-width="0.8"/>
<rect x="266.51" y="315.9" width="8.52" height="80.4" fill="#CD2626" stroke="#9A9A9A" stroke-width="0.8"/>
<rect x="275.03" y="315.9" width="8.52" height="80.4" fill="#CD2626" stroke="#9A9A9A" stroke-width="0.8"/>
<rect x="283.55" y="315.9" width="8.52" height="80.4" fill="#CD2626" stroke="#9A9A9A" stroke-width="0.8"/>
<rect x="292.08" y="315.9" width="8.52" height="80.4" fill="#CD2626" stroke="#9A9A9A" stroke-width="0.8"/>
<rect x="300.6" y="315.9" width="8.52" height="80.4" fill="#CD2626" stroke="#9A9A9A" stroke-width="0.8"/>
<rect x="309.13" y="315.9" width="8.52" height="80.4" fill="#CD2626" stroke="#9A9A9A" stroke-width="0.8"/>
<rect x="317.65" y="315.9" width="8.52" height="80.4" fill="#CD2626" stroke="#9A9A9A" stroke-width="0.8"/>
<rect x="326.18" y="315.9" width="8.52" height="80.4" fill="#CD2626" stroke="#9A9A9A" stroke-width="0.8"/>
<rect x="334.7" y="315.9" width="8.52" height="80.4" fill="#CD2626" stroke="#9A9A9A" stroke-width="0.8"/>
<rect x="343.22" y="315.9" width="8.52" height="80.4" fill="#CD2626" stroke="#9A9A9A" stroke-width="0.8"/>
<rect x="351.75" y="315.9" width="8.52" height="80.4" fill="#CD2626" stroke="#9A9A9A" stroke-width="0.8"/>
<rect x="360.27" y="315.9" width="8.52" height="80.4" fill="#CD2626" stroke="#9A9A9A" stroke-width="0.8"/>
<rect x="368.8" y="315.9" width="8.52" height="80.4" fill="#000080" stroke="#9A9A9A" stroke-width="0.8"/>
<rect x="377.32" y="315.9" width="8.52" height="80.4" fill="#000080" stroke="#9A9A9A" stroke-width="0.8"/>
<rect x="385.85" y="315.9" width="8.52" height="80.4" fill="#000080" stroke="#9A9A9A" stroke-width="0.8"/>
<rect x="394.37" y="315.9" width="8.52" height="80.4" fill="#000080" stroke="#9A9A9A" stroke-width="0.8"/>
<rect x="402.89" y="315.9" width="8.52" height="80.4" fill="#000080" stroke="#9A9A9A" stroke-width="0.8"/>
<rect x="411.42" y="315.9" width="8.52" height="80.4" fill="#000080" stroke="#9A9A9A" stroke-width="0.8"/>
<rect x="419.94" y="315.9" width="8.52" height="80.4" fill="#000080" stroke="#9A9A9A" stroke-width="0.8"/>
<rect x="428.47" y="315.9" width="8.52" height="80.4" fill="#000080" stroke="#9A9A9A" stroke-width="0.8"/>
<rect x="436.99" y="315.9" width="8.52" height="80.4" fill="#000080" stroke="#9A9A9A" stroke-width="0.8"/>
<rect x="445.52" y="315.9" width="8.52" height="80.4" fill="#000080" stroke="#9A9A9A" stroke-width="0.8"/>
<rect x="454.04" y="315.9" width="8.52" height="80.4" fill="#000080" stroke="#9A9A9A" stroke-width="0.8"/>
<rect x="462.56" y="315.9" width="8.52" height="80.4" fill="#000080" stroke="#9A9A9A" stroke-width="0.8"/>
<rect x="471.09" y="315.9" width="8.52" height="80.4" fill="#121289" stroke="#9A9A9A" stroke-width="0.8"/>
<rect x="479.61" y="315.9" width="8.52" height="80.4" fill="#000080" stroke="#9A9A9A" stroke-width="0.8"/>
<rect x="488.14" y="315.9" width="8.52" height="80.4" fill="#000080" stroke="#9A9A9A" stroke-width="0.8"/>
<rect x="496.66" y="315.9" width="8.52" height="80.4" fill="#000080" stroke="#9A9A9A" stroke-width="0.8"/>
<rect x="505.18" y="315.9" width="8.52" height="80.4" fill="#000080" stroke="#9A9A9A" stroke-width="0.8"/>
<rect x="513.71" y="315.9" width="8.52" height="80.4" fill="#000080" stroke="#9A9A9A" stroke-width="0.8"/>
<rect x="522.23" y="315.9" width="8.52" height="80.4" fill="#000080" stroke="#9A9A9A" stroke-width="0.8"/>
<rect x="530.76" y="315.9" width="8.52" height="80.4" fill="#000080" stroke="#9A9A9A" stroke-width="0.8"/>
<rect x="539.28" y="315.9" width="8.52" height="80.4" fill="#000080" stroke="#9A9A9A" stroke-width="0.8"/>
<rect x="547.81" y="315.9" width="8.52" height="80.4" fill="#0A0A86" stroke="#9A9A9A" stroke-width="0.8"/>
<rect x="556.33" y="315.9" width="8.52" height="80.4" fill="#0A0A86" stroke="#9A9A9A" stroke-width="0.8"/>
<rect x="564.85" y="315.9" width="8.52" height="80.4" fill="#000080" stroke="#9A9A9A" stroke-width="0.8"/>
<rect x="573.38" y="315.9" width="8.52" height="80.4" fill="#000080" stroke="#9A9A9A" stroke-width="0.8"/>
<rect x="581.9" y="315.9" width="8.52" height="80.4" fill="#000080" stroke="#9A9A9A" stroke-width="0.8"/>
<rect x="590.43" y="315.9" width="8.52" height="80.4" fill="#000080" stroke="#9A9A9A" stroke-width="0.8"/>
<rect x="598.95" y="315.9" width="8.52" height="80.4" fill="#000080" stroke="#9A9A9A" stroke-width="0.8"/>
<rect x="607.48" y="315.9" width="8.52" height="80.4" fill="#000080" stroke="#9A9A9A" stroke-width="0.8"/>
<rect x="53.4" y="396.3" width="8.52" height="80.4" fill="#7B7BBF" stroke="#9A9A9A" stroke-width="0.8"/>
<rect x="61.92" y="396.3" width="8.52" height="80.4" fill="#7878BE" stroke="#9A9A9A" stroke-width="0.8"/>
<rect x="70.45" y="396.3" width="8.52" height="80.4" fill="#7B7BC0" stroke="#9A9A9A" stroke-width="0.8"/>
<rect x="78.97" y="396.3" width="8.52" height="80.4" fill="#7878BE" stroke="#9A9A9A" stroke-width="0.8"/>
<rect x="87.5" y="396.3" width="8.52" height="80.4" fill="#6B6BB5" stroke="#9A9A9A" stroke-width="0.8"/>
<rect x="96.02" y="396.3" width="8.52" height="80.4" fill="#6E6EB8" stroke="#9A9A9A" stroke-width="0.8"/>
<rect x="104.55" y="396.3" width="8.52" height="80.4" fill="#7171BA" stroke="#9A9A9A" stroke-width="0.8"/>
<rect x="113.07" y="396.3" width="8.52" height="80.4" fill="#6E6EB8" stroke="#9A9A9A" stroke-width="0.8"/>
<rect x="121.59" y="396.3" width="8.52" height="80.4" fill="#4545A0" stroke="#9A9A9A" stroke-width="0.8"/>
<rect x="130.12" y="396.3" width="8.52" height="80.4" fill="#4848A2" stroke="#9A9A9A" stroke-width="0.8"/>
<rect x="138.64" y="396.3" width="8.52" height="80.4" fill="#4F4FA6" stroke="#9A9A9A" stroke-width="0.8"/>
<rect x="147.17" y="396.3" width="8.52" height="80.4" fill="#5252A8" stroke="#9A9A9A" stroke-width="0.8"/>
<rect x="155.69" y="396.3" width="8.52" height="80.4" fill="#5A5AAC" stroke="#9A9A9A" stroke-width="0.8"/>
<rect x="164.22" y="396.3" width="8.52" height="80.4" fill="#5858AB" stroke="#9A9A9A" stroke-width="0.8"/>
<rect x="172.74" y="396.3" width="8.52" height="80.4" fill="#5959AC" stroke="#9A9A9A" stroke-width="0.8"/>
<rect x="181.26" y="396.3" width="8.52" height="80.4" fill="#5A5AAD" stroke="#9A9A9A" stroke-width="0.8"/>
<rect x="189.79" y="396.3" width="8.52" height="80.4" fill="#EEEEF6" stroke="#9A9A9A" stroke-width="0.8"/>
<rect x="198.31" y="396.3" width="8.52" height="80.4" fill="#A3A3D1" stroke="#9A9A9A" stroke-width="0.8"/>
<rect x="206.84" y="396.3" width="8.52" height="80.4" fill="#9C9CCE" stroke="#9A9A9A" stroke-width="0.8"/>
<rect x="215.36" y="396.3" width="8.52" height="80.4" fill="#9B9BCD" stroke="#9A9A9A" stroke-width="0.8"/>
<rect x="223.88" y="396.3" width="8.52" height="80.4" fill="#9999CC" stroke="#9A9A9A" stroke-width="0.8"/>
<rect x="232.41" y="396.3" width="8.52" height="80.4" fill="#9B9BCD" stroke="#9A9A9A" stroke-width="0.8"/>
<rect x="240.93" y="396.3" width="8.52" height="80.4" fill="#8383C2" stroke="#9A9A9A" stroke-width="0.8"/>
<rect x="249.46" y="396.3" width="8.52" height="80.4" fill="#8585C3" stroke="#9A9A9A" stroke-width="0.8"/>
<rect x="257.98" y="396.3" width="8.52" height="80.4" fill="#8888C4" stroke="#9A9A9A" stroke-width="0.8"/>
<rect x="266.51" y="396.3" width="8.52" height="80.4" fill="#8484C2" stroke="#9A9A9A" stroke-width="0.8"/>
<rect x="275.03" y="396.3" width="8.52" height="80.4" fill="#8E8EC8" stroke="#9A9A9A" stroke-width="0.8"/>
<rect x="283.55" y="396.3" width="8.52" height="80.4" fill="#8E8EC8" stroke="#9A9A9A" stroke-width="0.8"/>
<rect x="292.08" y="396.3" width="8.52" height="80.4" fill="#8E8EC8" stroke="#9A9A9A" stroke-width="0.8"/>
<rect x="300.6" y="396.3" width="8.52" height="80.4" fill="#8E8EC8" stroke="#9A9A9A" stroke-width="0.8"/>
<rect x="309.13" y="396.3" width="8.52" height="80.4" fill="#8E8EC8" stroke="#9A9A9A" stroke-width="0.8"/>
<rect x="317.65" y="396.3" width="8.52" height="80.4" fill="#8E8EC8" stroke="#9A9A9A" stroke-width="0.8"/>
<rect x="326.18" y="396.3" width="8.52" height="80.4" fill="#8E8EC8" stroke="#9A9A9A" stroke-width="0.8"/>
<rect x="334.7" y="396.3" width="8.52" height="80.4" fill="#8E8EC8" stroke="#9A9A9A" stroke-width="0.8"/>
<rect x="343.22" y="396.3" width="8.52" height="80.4" fill="#8E8EC8" stroke="#9A9A9A" stroke-width="0.8"/>
<rect x="351.75" y="396.3" width="8.52" height="80.4" fill="#8E8EC8" stroke="#9A9A9A" stroke-width="0.8"/>
<rect x="360.27" y="396.3" width="8.52" height="80.4" fill="#8E8EC8" stroke="#9A9A9A" stroke-width="0.8"/>
<rect x="368.8" y="396.3" width="8.52" height="80.4" fill="#F2CCCC" stroke="#9A9A9A" stroke-width="0.8"/>
<rect x="377.32" y="396.3" width="8.52" height="80.4" fill="#F5D5D5" stroke="#9A9A9A" stroke-width="0.8"/>
<rect x="385.85" y="396.3" width="8.52" height="80.4" fill="#F5D8D8" stroke="#9A9A9A" stroke-width="0.8"/>
<rect x="394.37" y="396.3" width="8.52" height="80.4" fill="#E89A9A" stroke="#9A9A9A" stroke-width="0.8"/>
<rect x="402.89" y="396.3" width="8.52" height="80.4" fill="#E69090" stroke="#9A9A9A" stroke-width="0.8"/>
<rect x="411.42" y="396.3" width="8.52" height="80.4" fill="#E69090" stroke="#9A9A9A" stroke-width="0.8"/>
<rect x="419.94" y="396.3" width="8.52" height="80.4" fill="#E9A0A0" stroke="#9A9A9A" stroke-width="0.8"/>
<rect x="428.47" y="396.3" width="8.52" height="80.4" fill="#E9A0A0" stroke="#9A9A9A" stroke-width="0.8"/>
<rect x="436.99" y="396.3" width="8.52" height="80.4" fill="#E9A0A0" stroke="#9A9A9A" stroke-width="0.8"/>
<rect x="445.52" y="396.3" width="8.52" height="80.4" fill="#E9A2A2" stroke="#9A9A9A" stroke-width="0.8"/>
<rect x="454.04" y="396.3" width="8.52" height="80.4" fill="#E89898" stroke="#9A9A9A" stroke-width="0.8"/>
<rect x="462.56" y="396.3" width="8.52" height="80.4" fill="#E9A0A0" stroke="#9A9A9A" stroke-width="0.8"/>
<rect x="471.09" y="396.3" width="8.52" height="80.4" fill="#D84848" stroke="#9A9A9A" stroke-width="0.8"/>
<rect x="479.61" y="396.3" width="8.52" height="80.4" fill="#E38080" stroke="#9A9A9A" stroke-width="0.8"/>
<rect x="488.14" y="396.3" width="8.52" height="80.4" fill="#E38080" stroke="#9A9A9A" stroke-width="0.8"/>
<rect x="496.66" y="396.3" width="8.52" height="80.4" fill="#E17070" stroke="#9A9A9A" stroke-width="0.8"/>
<rect x="505.18" y="396.3" width="8.52" height="80.4" fill="#E17272" stroke="#9A9A9A" stroke-width="0.8"/>
<rect x="513.71" y="396.3" width="8.52" height="80.4" fill="#E27878" stroke="#9A9A9A" stroke-width="0.8"/>
<rect x="522.23" y="396.3" width="8.52" height="80.4" fill="#DC5C5C" stroke="#9A9A9A" stroke-width="0.8"/>
<rect x="530.76" y="396.3" width="8.52" height="80.4" fill="#DE6464" stroke="#9A9A9A" stroke-width="0.8"/>
<rect x="539.28" y="396.3" width="8.52" height="80.4" fill="#DE6464" stroke="#9A9A9A" stroke-width="0.8"/>
<rect x="547.81" y="396.3" width="8.52" height="80.4" fill="#DB5858" stroke="#9A9A9A" stroke-width="0.8"/>
<rect x="556.33" y="396.3" width="8.52" height="80.4" fill="#DB5858" stroke="#9A9A9A" stroke-width="0.8"/>
<rect x="564.85" y="396.3" width="8.52" height="80.4" fill="#DF6A6A" stroke="#9A9A9A" stroke-width="0.8"/>
<rect x="573.38" y="396.3" width="8.52" height="80.4" fill="#DF6A6A" stroke="#9A9A9A" stroke-width="0.8"/>
<rect x="581.9" y="396.3" width="8.52" height="80.4" fill="#DE6464" stroke="#9A9A9A" stroke-width="0.8"/>
<rect x="590.43" y="396.3" width="8.52" height="80.4" fill="#DE6666" stroke="#9A9A9A" stroke-width="0.8"/>
<rect x="598.95" y="396.3" width="8.52" height="80.4" fill="#DE6464" stroke="#9A9A9A" stroke-width="0.8"/>
<rect x="607.48" y="396.3" width="8.52" height="80.4" fill="#DE6464" stroke="#9A9A9A" stroke-width="0.8"/>
<rect x="53.4" y="476.7" width="8.52" height="80.4" fill="#7B7BBF" stroke="#9A9A9A" stroke-width="0.8"/>
<rect x="61.92" y="476.7" width="8.52" height="80.4" fill="#7878BD" stroke="#9A9A9A" stroke-width="0.8"/>
<rect x="70.45" y="476.7" width="8.52" height="80.4" fill="#7A7ABF" stroke="#9A9A9A" stroke-width="0.8"/>
<rect x="78.97" y="476.7" width="8.52" height="80.4" fill="#7878BD" stroke="#9A9A9A" stroke-width="0.8"/>
<rect x="87.5" y="476.7" width="8.52" height="80.4" fill="#8C8CC6" stroke="#9A9A9A" stroke-width="0.8"/>
<rect x="96.02" y="476.7" width="8.52" height="80.4" fill="#8888C4" stroke="#9A9A9A" stroke-width="0.8"/>
<rect x="104.55" y="476.7" width="8.52" height="80.4" fill="#8585C3" stroke="#9A9A9A" stroke-width="0.8"/>
<rect x="113.07" y="476.7" width="8.52" height="80.4" fill="#8585C3" stroke="#9A9A9A" stroke-width="0.8"/>
<rect x="121.59" y="476.7" width="8.52" height="80.4" fill="#BBBBDE" stroke="#9A9A9A" stroke-width="0.8"/>
<rect x="130.12" y="476.7" width="8.52" height="80.4" fill="#B0B0D8" stroke="#9A9A9A" stroke-width="0.8"/>
<rect x="138.64" y="476.7" width="8.52" height="80.4" fill="#A8A8D4" stroke="#9A9A9A" stroke-width="0.8"/>
<rect x="147.17" y="476.7" width="8.52" height="80.4" fill="#A0A0D0" stroke="#9A9A9A" stroke-width="0.8"/>
<rect x="155.69" y="476.7" width="8.52" height="80.4" fill="#9B9BCE" stroke="#9A9A9A" stroke-width="0.8"/>
<rect x="164.22" y="476.7" width="8.52" height="80.4" fill="#9C9CCE" stroke="#9A9A9A" stroke-width="0.8"/>
<rect x="172.74" y="476.7" width="8.52" height="80.4" fill="#9D9DCF" stroke="#9A9A9A" stroke-width="0.8"/>
<rect x="181.26" y="476.7" width="8.52" height="80.4" fill="#9C9CCE" stroke="#9A9A9A" stroke-width="0.8"/>
<rect x="189.79" y="476.7" width="8.52" height="80.4" fill="#1C1C8C" stroke="#9A9A9A" stroke-width="0.8"/>
<rect x="198.31" y="476.7" width="8.52" height="80.4" fill="#5656AA" stroke="#9A9A9A" stroke-width="0.8"/>
<rect x="206.84" y="476.7" width="8.52" height="80.4" fill="#5858AB" stroke="#9A9A9A" stroke-width="0.8"/>
<rect x="215.36" y="476.7" width="8.52" height="80.4" fill="#5959AC" stroke="#9A9A9A" stroke-width="0.8"/>
<rect x="223.88" y="476.7" width="8.52" height="80.4" fill="#5A5AAD" stroke="#9A9A9A" stroke-width="0.8"/>
<rect x="232.41" y="476.7" width="8.52" height="80.4" fill="#5858AB" stroke="#9A9A9A" stroke-width="0.8"/>
<rect x="240.93" y="476.7" width="8.52" height="80.4" fill="#6C6CB6" stroke="#9A9A9A" stroke-width="0.8"/>
<rect x="249.46" y="476.7" width="8.52" height="80.4" fill="#6A6AB5" stroke="#9A9A9A" stroke-width="0.8"/>
<rect x="257.98" y="476.7" width="8.52" height="80.4" fill="#6767B3" stroke="#9A9A9A" stroke-width="0.8"/>
<rect x="266.51" y="476.7" width="8.52" height="80.4" fill="#6B6BB5" stroke="#9A9A9A" stroke-width="0.8"/>
<rect x="275.03" y="476.7" width="8.52" height="80.4" fill="#6666B3" stroke="#9A9A9A" stroke-width="0.8"/>
<rect x="283.55" y="476.7" width="8.52" height="80.4" fill="#6666B3" stroke="#9A9A9A" stroke-width="0.8"/>
<rect x="292.08" y="476.7" width="8.52" height="80.4" fill="#6666B3" stroke="#9A9A9A" stroke-width="0.8"/>
<rect x="300.6" y="476.7" width="8.52" height="80.4" fill="#6666B3" stroke="#9A9A9A" stroke-width="0.8"/>
<rect x="309.13" y="476.7" width="8.52" height="80.4" fill="#6666B3" stroke="#9A9A9A" stroke-width="0.8"/>
<rect x="317.65" y="476.7" width="8.52" height="80.4" fill="#6666B3" stroke="#9A9A9A" stroke-width="0.8"/>
<rect x="326.18" y="476.7" width="8.52" height="80.4" fill="#6666B3" stroke="#9A9A9A" stroke-width="0.8"/>
<rect x="334.7" y="476.7" width="8.52" height="80.4" fill="#6666B3" stroke="#9A9A9A" stroke-width="0.8"/>
<rect x="343.22" y="476.7" width="8.52" height="80.4" fill="#6666B3" stroke="#9A9A9A" stroke-width="0.8"/>
<rect x="351.75" y="476.7" width="8.52" height="80.4" fill="#6666B3" stroke="#9A9A9A" stroke-width="0.8"/>
<rect x="360.27" y="476.7" width="8.52" height="80.4" fill="#6666B3" stroke="#9A9A9A" stroke-width="0.8"/>
<rect x="368.8" y="476.7" width="8.52" height="80.4" fill="#DC6060" stroke="#9A9A9A" stroke-width="0.8"/>
<rect x="377.32" y="476.7" width="8.52" height="80.4" fill="#D85252" stroke="#9A9A9A" stroke-width="0.8"/>
<rect x="385.85" y="476.7" width="8.52" height="80.4" fill="#D85454" stroke="#9A9A9A" stroke-width="0.8"/>
<rect x="394.37" y="476.7" width="8.52" height="80.4" fill="#E58E8E" stroke="#9A9A9A" stroke-width="0.8"/>
<rect x="402.89" y="476.7" width="8.52" height="80.4" fill="#E69292" stroke="#9A9A9A" stroke-width="0.8"/>
<rect x="411.42" y="476.7" width="8.52" height="80.4" fill="#E58E8E" stroke="#9A9A9A" stroke-width="0.8"/>
<rect x="419.94" y="476.7" width="8.52" height="80.4" fill="#E37E7E" stroke="#9A9A9A" stroke-width="0.8"/>
<rect x="428.47" y="476.7" width="8.52" height="80.4" fill="#E37E7E" stroke="#9A9A9A" stroke-width="0.8"/>
<rect x="436.99" y="476.7" width="8.52" height="80.4" fill="#E37E7E" stroke="#9A9A9A" stroke-width="0.8"/>
<rect x="445.52" y="476.7" width="8.52" height="80.4" fill="#E38080" stroke="#9A9A9A" stroke-width="0.8"/>
<rect x="454.04" y="476.7" width="8.52" height="80.4" fill="#E38080" stroke="#9A9A9A" stroke-width="0.8"/>
<rect x="462.56" y="476.7" width="8.52" height="80.4" fill="#E38080" stroke="#9A9A9A" stroke-width="0.8"/>
<rect x="471.09" y="476.7" width="8.52" height="80.4" fill="#FAF0F0" stroke="#9A9A9A" stroke-width="0.8"/>
<rect x="479.61" y="476.7" width="8.52" height="80.4" fill="#E9A0A0" stroke="#9A9A9A" stroke-width="0.8"/>
<rect x="488.14" y="476.7" width="8.52" height="80.4" fill="#E9A2A2" stroke="#9A9A9A" stroke-width="0.8"/>
<rect x="496.66" y="476.7" width="8.52" height="80.4" fill="#EDB0B0" stroke="#9A9A9A" stroke-width="0.8"/>
<rect x="505.18" y="476.7" width="8.52" height="80.4" fill="#EDACAC" stroke="#9A9A9A" stroke-width="0.8"/>
<rect x="513.71" y="476.7" width="8.52" height="80.4" fill="#EBA8A8" stroke="#9A9A9A" stroke-width="0.8"/>
<rect x="522.23" y="476.7" width="8.52" height="80.4" fill="#F2CFCF" stroke="#9A9A9A" stroke-width="0.8"/>
<rect x="530.76" y="476.7" width="8.52" height="80.4" fill="#F0C5C5" stroke="#9A9A9A" stroke-width="0.8"/>
<rect x="539.28" y="476.7" width="8.52" height="80.4" fill="#F0C5C5" stroke="#9A9A9A" stroke-width="0.8"/>
<rect x="547.81" y="476.7" width="8.52" height="80.4" fill="#F2CCCC" stroke="#9A9A9A" stroke-width="0.8"/>
<rect x="556.33" y="476.7" width="8.52" height="80.4" fill="#F2CDCD" stroke="#9A9A9A" stroke-width="0.8"/>
<rect x="564.85" y="476.7" width="8.52" height="80.4" fill="#EEB5B5" stroke="#9A9A9A" stroke-width="0.8"/>
<rect x="573.38" y="476.7" width="8.52" height="80.4" fill="#EEB5B5" stroke="#9A9A9A" stroke-width="0.8"/>
<rect x="581.9" y="476.7" width="8.52" height="80.4" fill="#EFBBBB" stroke="#9A9A9A" stroke-width="0.8"/>
<rect x="590.43" y="476.7" width="8.52" height="80.4" fill="#EFBBBB" stroke="#9A9A9A" stroke-width="0.8"/>
<rect x="598.95" y="476.7" width="8.52" height="80.4" fill="#F0C4C4" stroke="#9A9A9A" stroke-width="0.8"/>
<rect x="607.48" y="476.7" width="8.52" height="80.4" fill="#F0C4C4" stroke="#9A9A9A" stroke-width="0.8"/>
<text transform="translate(617.6,353.35) scale(1.155,1)" font-size="7.1" fill="#000">Vehicle</text>
<text transform="translate(617.6,439.65) scale(1.155,1)" font-size="7.1" fill="#000">P57</text>
<text transform="translate(617.6,518.85) scale(1.155,1)" font-size="7.1" fill="#000">PL</text>
<text transform="translate(54.46,559.3) rotate(90) scale(0.86,1.16)" font-size="7.8" font-style="italic" fill="#000">Fus</text>
<text transform="translate(62.99,559.3) rotate(90) scale(0.86,1.16)" font-size="7.8" font-style="italic" fill="#000">Srsf7</text>
<text transform="translate(71.51,559.3) rotate(90) scale(0.86,1.16)" font-size="7.8" font-style="italic" fill="#000">Snap23</text>
<text transform="translate(80.03,559.3) rotate(90) scale(0.86,1.16)" font-size="7.8" font-style="italic" fill="#000">Pcyt2</text>
<text transform="translate(88.56,559.3) rotate(90) scale(0.86,1.16)" font-size="7.8" font-style="italic" fill="#000">Hnrnpd</text>
<text transform="translate(97.08,559.3) rotate(90) scale(0.86,1.16)" font-size="7.8" font-style="italic" fill="#000">Nae1</text>
<text transform="translate(105.61,559.3) rotate(90) scale(0.86,1.16)" font-size="7.8" font-style="italic" fill="#000">Tra2a</text>
<text transform="translate(114.13,559.3) rotate(90) scale(0.86,1.16)" font-size="7.8" font-style="italic" fill="#000">Tro</text>
<text transform="translate(122.66,559.3) rotate(90) scale(0.86,1.16)" font-size="7.8" font-style="italic" fill="#000">Mir124a-1</text>
<text transform="translate(131.18,559.3) rotate(90) scale(0.86,1.16)" font-size="7.8" font-style="italic" fill="#000">Gabra4</text>
<text transform="translate(139.7,559.3) rotate(90) scale(0.86,1.16)" font-size="7.8" font-style="italic" fill="#000">Clk1</text>
<text transform="translate(148.23,559.3) rotate(90) scale(0.86,1.16)" font-size="7.8" font-style="italic" fill="#000">Slc38a2</text>
<text transform="translate(156.75,559.3) rotate(90) scale(0.86,1.16)" font-size="7.8" font-style="italic" fill="#000">Gm44151</text>
<text transform="translate(165.28,559.3) rotate(90) scale(0.86,1.16)" font-size="7.8" font-style="italic" fill="#000">Lef1</text>
<text transform="translate(173.8,559.3) rotate(90) scale(0.86,1.16)" font-size="7.8" font-style="italic" fill="#000">Prickle1</text>
<text transform="translate(182.33,559.3) rotate(90) scale(0.86,1.16)" font-size="7.8" font-style="italic" fill="#000">Gm26724</text>
<text transform="translate(190.85,559.3) rotate(90) scale(0.86,1.16)" font-size="7.8" font-style="italic" fill="#000">Gm47283</text>
<text transform="translate(199.37,559.3) rotate(90) scale(0.86,1.16)" font-size="7.8" font-style="italic" fill="#000">Tcf7l2</text>
<text transform="translate(207.9,559.3) rotate(90) scale(0.86,1.16)" font-size="7.8" font-style="italic" fill="#000">Rock1</text>
<text transform="translate(216.42,559.3) rotate(90) scale(0.86,1.16)" font-size="7.8" font-style="italic" fill="#000">Fxr1</text>
<text transform="translate(224.95,559.3) rotate(90) scale(0.86,1.16)" font-size="7.8" font-style="italic" fill="#000">Snhg11</text>
<text transform="translate(233.47,559.3) rotate(90) scale(0.86,1.16)" font-size="7.8" font-style="italic" fill="#000">Atp6v0b</text>
<text transform="translate(242,559.3) rotate(90) scale(0.86,1.16)" font-size="7.8" font-style="italic" fill="#000">Taf1d</text>
<text transform="translate(250.52,559.3) rotate(90) scale(0.86,1.16)" font-size="7.8" font-style="italic" fill="#000">Knl1</text>
<text transform="translate(259.04,559.3) rotate(90) scale(0.86,1.16)" font-size="7.8" font-style="italic" fill="#000">Cnot3</text>
<text transform="translate(267.57,559.3) rotate(90) scale(0.86,1.16)" font-size="7.8" font-style="italic" fill="#000">Sst</text>
<text transform="translate(276.09,559.3) rotate(90) scale(0.86,1.16)" font-size="7.8" font-style="italic" fill="#000">Hjurp</text>
<text transform="translate(284.62,559.3) rotate(90) scale(0.86,1.16)" font-size="7.8" font-style="italic" fill="#000">Gm21798</text>
<text transform="translate(293.14,559.3) rotate(90) scale(0.86,1.16)" font-size="7.8" font-style="italic" fill="#000">Pprf4b</text>
<text transform="translate(301.67,559.3) rotate(90) scale(0.86,1.16)" font-size="7.8" font-style="italic" fill="#000">Cdc7</text>
<text transform="translate(310.19,559.3) rotate(90) scale(0.86,1.16)" font-size="7.8" font-style="italic" fill="#000">Tmem108</text>
<text transform="translate(318.71,559.3) rotate(90) scale(0.86,1.16)" font-size="7.8" font-style="italic" fill="#000">Zcchc18</text>
<text transform="translate(327.24,559.3) rotate(90) scale(0.86,1.16)" font-size="7.8" font-style="italic" fill="#000">Dusp11</text>
<text transform="translate(335.76,559.3) rotate(90) scale(0.86,1.16)" font-size="7.8" font-style="italic" fill="#000">Ndufaf4</text>
<text transform="translate(344.29,559.3) rotate(90) scale(0.86,1.16)" font-size="7.8" font-style="italic" fill="#000">Swr1</text>
<text transform="translate(352.81,559.3) rotate(90) scale(0.86,1.16)" font-size="7.8" font-style="italic" fill="#000">Gpatch8</text>
<text transform="translate(361.33,559.3) rotate(90) scale(0.86,1.16)" font-size="7.8" font-style="italic" fill="#000">Pmch</text>
<text transform="translate(369.86,559.3) rotate(90) scale(0.86,1.16)" font-size="7.8" font-style="italic" fill="#000">Sgcd</text>
<text transform="translate(378.38,559.3) rotate(90) scale(0.86,1.16)" font-size="7.8" font-style="italic" fill="#000">Fkbp6</text>
<text transform="translate(386.91,559.3) rotate(90) scale(0.86,1.16)" font-size="7.8" font-style="italic" fill="#000">Adarb2</text>
<text transform="translate(395.43,559.3) rotate(90) scale(0.86,1.16)" font-size="7.8" font-style="italic" fill="#000">Nyap2</text>
<text transform="translate(403.96,559.3) rotate(90) scale(0.86,1.16)" font-size="7.8" font-style="italic" fill="#000">Galntl6</text>
<text transform="translate(412.48,559.3) rotate(90) scale(0.86,1.16)" font-size="7.8" font-style="italic" fill="#000">Foxp2</text>
<text transform="translate(421,559.3) rotate(90) scale(0.86,1.16)" font-size="7.8" font-style="italic" fill="#000">Kcnt2</text>
<text transform="translate(429.53,559.3) rotate(90) scale(0.86,1.16)" font-size="7.8" font-style="italic" fill="#000">Erbb4</text>
<text transform="translate(438.05,559.3) rotate(90) scale(0.86,1.16)" font-size="7.8" font-style="italic" fill="#000">Pak3</text>
<text transform="translate(446.58,559.3) rotate(90) scale(0.86,1.16)" font-size="7.8" font-style="italic" fill="#000">Zbtb16</text>
<text transform="translate(455.1,559.3) rotate(90) scale(0.86,1.16)" font-size="7.8" font-style="italic" fill="#000">Epm2a</text>
<text transform="translate(463.63,559.3) rotate(90) scale(0.86,1.16)" font-size="7.8" font-style="italic" fill="#000">B230209E</text>
<text transform="translate(472.15,559.3) rotate(90) scale(0.86,1.16)" font-size="7.8" font-style="italic" fill="#000">Dgkb</text>
<text transform="translate(480.67,559.3) rotate(90) scale(0.86,1.16)" font-size="7.8" font-style="italic" fill="#000">A230006K</text>
<text transform="translate(489.2,559.3) rotate(90) scale(0.86,1.16)" font-size="7.8" font-style="italic" fill="#000">Gm45904</text>
<text transform="translate(497.72,559.3) rotate(90) scale(0.86,1.16)" font-size="7.8" font-style="italic" fill="#000">March1</text>
<text transform="translate(506.25,559.3) rotate(90) scale(0.86,1.16)" font-size="7.8" font-style="italic" fill="#000">mt-Co1</text>
<text transform="translate(514.77,559.3) rotate(90) scale(0.86,1.16)" font-size="7.8" font-style="italic" fill="#000">Gphn</text>
<text transform="translate(523.3,559.3) rotate(90) scale(0.86,1.16)" font-size="7.8" font-style="italic" fill="#000">Grik2</text>
<text transform="translate(531.82,559.3) rotate(90) scale(0.86,1.16)" font-size="7.8" font-style="italic" fill="#000">Gm32509</text>
<text transform="translate(540.34,559.3) rotate(90) scale(0.86,1.16)" font-size="7.8" font-style="italic" fill="#000">Mgat4c</text>
<text transform="translate(548.87,559.3) rotate(90) scale(0.86,1.16)" font-size="7.8" font-style="italic" fill="#000">mt-Nd1</text>
<text transform="translate(557.39,559.3) rotate(90) scale(0.86,1.16)" font-size="7.8" font-style="italic" fill="#000">mt-Nd2</text>
<text transform="translate(565.92,559.3) rotate(90) scale(0.86,1.16)" font-size="7.8" font-style="italic" fill="#000">mt-Co3</text>
<text transform="translate(574.44,559.3) rotate(90) scale(0.86,1.16)" font-size="7.8" font-style="italic" fill="#000">Mff</text>
<text transform="translate(582.97,559.3) rotate(90) scale(0.86,1.16)" font-size="7.8" font-style="italic" fill="#000">mt-Atp6</text>
<text transform="translate(591.49,559.3) rotate(90) scale(0.86,1.16)" font-size="7.8" font-style="italic" fill="#000">mt-Nd4</text>
<text transform="translate(600.01,559.3) rotate(90) scale(0.86,1.16)" font-size="7.8" font-style="italic" fill="#000">mt-Co2</text>
<text transform="translate(608.54,559.3) rotate(90) scale(0.86,1.16)" font-size="7.8" font-style="italic" fill="#000">mt-Cytb</text>
<defs><linearGradient id="gc" x1="0" y1="0" x2="0" y2="1"><stop offset="0" stop-color="#CD2626"/><stop offset="0.508" stop-color="#FFFFFF"/><stop offset="1" stop-color="#000080"/></linearGradient></defs>
<rect x="645.2" y="316" width="7.8" height="79.9" fill="url(#gc)"/>
<text transform="translate(656.1,327.45) scale(1.16,1)" font-size="6.3" fill="#000">1.0</text>
<text transform="translate(656.1,341.85) scale(1.16,1)" font-size="6.3" fill="#000">0.5</text>
<text transform="translate(656.1,359.35) scale(1.16,1)" font-size="6.3" fill="#000">0.0</text>
<text transform="translate(656.1,375.65) scale(1.16,1)" font-size="6.3" fill="#000">-0.5</text>
<text transform="translate(656.1,390.35) scale(1.16,1)" font-size="6.3" fill="#000">-1.0</text>
<polyline points="53.4,356.1 12.4,356.1 12.4,476.8 45.6,476.8" stroke="#1a1a1a" stroke-width="0.95" fill="none"/>
<polyline points="53.4,436.5 45.6,436.5 45.6,516.9 53.4,516.9" stroke="#1a1a1a" stroke-width="0.95" fill="none"/>
<polyline points="166.5,305.6 166.5,288.1 453.3,288.1 453.3,304.1" stroke="#1a1a1a" stroke-width="0.95" fill="none"/>
<polyline points="112.4,312.4 112.4,305.6 220.7,305.6 220.7,309.1" stroke="#1a1a1a" stroke-width="0.95" fill="none"/>
<polyline points="82.4,314.4 82.4,312.4 142.4,312.4 142.4,314.4" stroke="#1a1a1a" stroke-width="0.95" fill="none"/>
<polyline points="194.05,315.9 194.05,309.1 246.9,309.1 246.9,313.3" stroke="#1a1a1a" stroke-width="0.95" fill="none"/>
<polyline points="402.7,310.7 402.7,304.1 503.5,304.1 503.5,310.7" stroke="#1a1a1a" stroke-width="0.95" fill="none"/>
<polyline points="379.5,314.6 379.5,310.7 426.3,310.7 426.3,314.6" stroke="#1a1a1a" stroke-width="0.95" fill="none"/>
<polyline points="475.3,315.9 475.3,310.7 531.3,310.7 531.3,312.4" stroke="#1a1a1a" stroke-width="0.95" fill="none"/>
<polyline points="497.4,314.2 497.4,312.4 565.2,312.4 565.2,313.9" stroke="#1a1a1a" stroke-width="0.95" fill="none"/>
<line x1="57.66" x2="83.23" y1="315" y2="315" stroke="#1a1a1a" stroke-width="0.8"/>
<line x1="91.76" x2="117.33" y1="314.8" y2="314.8" stroke="#1a1a1a" stroke-width="0.8"/>
<line x1="64.9" x2="100.4" y1="314.4" y2="314.4" stroke="#1a1a1a" stroke-width="0.8"/>
<line x1="125.86" x2="151.43" y1="315" y2="315" stroke="#1a1a1a" stroke-width="0.8"/>
<line x1="159.95" x2="185.53" y1="315" y2="315" stroke="#1a1a1a" stroke-width="0.8"/>
<line x1="126.2" x2="154.7" y1="314.4" y2="314.4" stroke="#1a1a1a" stroke-width="0.8"/>
<line x1="210.8" x2="283" y1="313.3" y2="313.3" stroke="#1a1a1a" stroke-width="0.8"/>
<line x1="202.7" x2="312.6" y1="314.6" y2="314.6" stroke="#1a1a1a" stroke-width="0.8"/>
<line x1="202.57" x2="236.67" y1="315.2" y2="315.2" stroke="#1a1a1a" stroke-width="0.8"/>
<line x1="245.2" x2="364.53" y1="315.3" y2="315.3" stroke="#1a1a1a" stroke-width="0.8"/>
<line x1="313.39" x2="364.53" y1="314.9" y2="314.9" stroke="#1a1a1a" stroke-width="0.8"/>
<line x1="372.7" x2="447.1" y1="314.6" y2="314.6" stroke="#1a1a1a" stroke-width="0.8"/>
<line x1="373.06" x2="390.11" y1="315.2" y2="315.2" stroke="#1a1a1a" stroke-width="0.8"/>
<line x1="398.63" x2="466.83" y1="315.2" y2="315.2" stroke="#1a1a1a" stroke-width="0.8"/>
<line x1="483.87" x2="517.97" y1="315.2" y2="315.2" stroke="#1a1a1a" stroke-width="0.8"/>
<line x1="483.87" x2="500.92" y1="314.6" y2="314.6" stroke="#1a1a1a" stroke-width="0.8"/>
<line x1="544.4" x2="565.2" y1="313.9" y2="313.9" stroke="#1a1a1a" stroke-width="0.8"/>
<line x1="572.9" x2="586" y1="314.4" y2="314.4" stroke="#1a1a1a" stroke-width="0.8"/>
<line x1="483" x2="599.2" y1="314.9" y2="314.9" stroke="#1a1a1a" stroke-width="0.8"/>
<line x1="526.5" x2="611.74" y1="315.3" y2="315.3" stroke="#1a1a1a" stroke-width="0.8"/>
<rect x="66.5" y="618.8" width="40.6" height="4.21" fill="#FDCF99"/>
<rect x="107.1" y="618.8" width="95.8" height="4.21" fill="#E8282A"/>
<rect x="202.9" y="618.8" width="68.4" height="4.21" fill="#7EC8E6"/>
<text transform="translate(86.8,622.26) scale(0.8,1)" font-size="3.9" text-anchor="middle" fill="#000">0.198</text>
<text transform="translate(155,622.26) scale(0.8,1)" font-size="3.9" text-anchor="middle" fill="#000">0.468</text>
<text transform="translate(237.1,622.26) scale(0.8,1)" font-size="3.9" text-anchor="middle" fill="#000">0.334</text>
<text transform="translate(65.9,622.61) scale(0.8,1)" font-size="4.8" text-anchor="end" fill="#666">12</text>
<rect x="34.7" y="618.35" width="17.3" height="5.16" fill="rgb(229,143,143)"/>
<rect x="66.5" y="623.91" width="55.4" height="4.21" fill="#FDCF99"/>
<rect x="121.9" y="623.91" width="83.8" height="4.21" fill="#E8282A"/>
<rect x="205.7" y="623.91" width="65.6" height="4.21" fill="#7EC8E6"/>
<text transform="translate(94.2,627.37) scale(0.8,1)" font-size="3.9" text-anchor="middle" fill="#000">0.271</text>
<text transform="translate(163.8,627.37) scale(0.8,1)" font-size="3.9" text-anchor="middle" fill="#000">0.409</text>
<text transform="translate(238.5,627.37) scale(0.8,1)" font-size="3.9" text-anchor="middle" fill="#000">0.32</text>
<text transform="translate(65.9,627.72) scale(0.8,1)" font-size="4.8" text-anchor="end" fill="#666">13</text>
<rect x="34.7" y="623.46" width="17.3" height="5.16" fill="rgb(238,183,183)"/>
<rect x="66.5" y="629.02" width="47.6" height="4.21" fill="#FDCF99"/>
<rect x="114.1" y="629.02" width="79.7" height="4.21" fill="#E8282A"/>
<rect x="193.8" y="629.02" width="77.5" height="4.21" fill="#7EC8E6"/>
<text transform="translate(90.3,632.48) scale(0.8,1)" font-size="3.9" text-anchor="middle" fill="#000">0.232</text>
<text transform="translate(153.95,632.48) scale(0.8,1)" font-size="3.9" text-anchor="middle" fill="#000">0.389</text>
<text transform="translate(232.55,632.48) scale(0.8,1)" font-size="3.9" text-anchor="middle" fill="#000">0.378</text>
<text transform="translate(65.9,632.83) scale(0.8,1)" font-size="4.8" text-anchor="end" fill="#666">6</text>
<rect x="34.7" y="628.57" width="17.3" height="5.16" fill="rgb(241,197,197)"/>
<rect x="66.5" y="634.13" width="42.5" height="4.21" fill="#FDCF99"/>
<rect x="109" y="634.13" width="72.5" height="4.21" fill="#E8282A"/>
<rect x="181.5" y="634.13" width="89.8" height="4.21" fill="#7EC8E6"/>
<text transform="translate(87.75,637.59) scale(0.8,1)" font-size="3.9" text-anchor="middle" fill="#000">0.208</text>
<text transform="translate(145.25,637.59) scale(0.8,1)" font-size="3.9" text-anchor="middle" fill="#000">0.354</text>
<text transform="translate(226.4,637.59) scale(0.8,1)" font-size="3.9" text-anchor="middle" fill="#000">0.438</text>
<text transform="translate(65.9,637.94) scale(0.8,1)" font-size="4.8" text-anchor="end" fill="#666">0</text>
<rect x="34.7" y="633.68" width="17.3" height="5.16" fill="rgb(246,218,218)"/>
<rect x="66.5" y="639.24" width="46.2" height="4.21" fill="#FDCF99"/>
<rect x="112.7" y="639.24" width="69.1" height="4.21" fill="#E8282A"/>
<rect x="181.8" y="639.24" width="89.5" height="4.21" fill="#7EC8E6"/>
<text transform="translate(89.6,642.7) scale(0.8,1)" font-size="3.9" text-anchor="middle" fill="#000">0.226</text>
<text transform="translate(147.25,642.7) scale(0.8,1)" font-size="3.9" text-anchor="middle" fill="#000">0.337</text>
<text transform="translate(226.55,642.7) scale(0.8,1)" font-size="3.9" text-anchor="middle" fill="#000">0.437</text>
<text transform="translate(65.9,643.05) scale(0.8,1)" font-size="4.8" text-anchor="end" fill="#666">9</text>
<rect x="34.7" y="638.79" width="17.3" height="5.16" fill="rgb(247,220,220)"/>
<rect x="66.5" y="644.36" width="40" height="4.21" fill="#FDCF99"/>
<rect x="106.5" y="644.36" width="71.8" height="4.21" fill="#E8282A"/>
<rect x="178.3" y="644.36" width="93" height="4.21" fill="#7EC8E6"/>
<text transform="translate(86.5,647.81) scale(0.8,1)" font-size="3.9" text-anchor="middle" fill="#000">0.195</text>
<text transform="translate(142.4,647.81) scale(0.8,1)" font-size="3.9" text-anchor="middle" fill="#000">0.351</text>
<text transform="translate(224.8,647.81) scale(0.8,1)" font-size="3.9" text-anchor="middle" fill="#000">0.454</text>
<text transform="translate(65.9,648.16) scale(0.8,1)" font-size="4.8" text-anchor="end" fill="#666">20</text>
<rect x="34.7" y="643.91" width="17.3" height="5.16" fill="rgb(247,220,220)"/>
<rect x="66.5" y="649.47" width="53.1" height="4.21" fill="#FDCF99"/>
<rect x="119.6" y="649.47" width="71.6" height="4.21" fill="#E8282A"/>
<rect x="191.2" y="649.47" width="80.1" height="4.21" fill="#7EC8E6"/>
<text transform="translate(93.05,652.92) scale(0.8,1)" font-size="3.9" text-anchor="middle" fill="#000">0.259</text>
<text transform="translate(155.4,652.92) scale(0.8,1)" font-size="3.9" text-anchor="middle" fill="#000">0.35</text>
<text transform="translate(231.25,652.92) scale(0.8,1)" font-size="3.9" text-anchor="middle" fill="#000">0.391</text>
<text transform="translate(65.9,653.27) scale(0.8,1)" font-size="4.8" text-anchor="end" fill="#666">25</text>
<rect x="34.7" y="649.02" width="17.3" height="5.16" fill="rgb(247,224,224)"/>
<rect x="66.5" y="654.58" width="55.3" height="4.21" fill="#FDCF99"/>
<rect x="121.8" y="654.58" width="71" height="4.21" fill="#E8282A"/>
<rect x="192.8" y="654.58" width="78.5" height="4.21" fill="#7EC8E6"/>
<text transform="translate(94.15,658.03) scale(0.8,1)" font-size="3.9" text-anchor="middle" fill="#000">0.27</text>
<text transform="translate(157.3,658.03) scale(0.8,1)" font-size="3.9" text-anchor="middle" fill="#000">0.347</text>
<text transform="translate(232.05,658.03) scale(0.8,1)" font-size="3.9" text-anchor="middle" fill="#000">0.383</text>
<text transform="translate(65.9,658.38) scale(0.8,1)" font-size="4.8" text-anchor="end" fill="#666">21</text>
<rect x="34.7" y="654.13" width="17.3" height="5.16" fill="rgb(248,224,224)"/>
<rect x="66.5" y="659.69" width="55.6" height="4.21" fill="#FDCF99"/>
<rect x="122.1" y="659.69" width="68.8" height="4.21" fill="#E8282A"/>
<rect x="190.9" y="659.69" width="80.4" height="4.21" fill="#7EC8E6"/>
<text transform="translate(94.3,663.14) scale(0.8,1)" font-size="3.9" text-anchor="middle" fill="#000">0.271</text>
<text transform="translate(156.5,663.14) scale(0.8,1)" font-size="3.9" text-anchor="middle" fill="#000">0.336</text>
<text transform="translate(231.1,663.14) scale(0.8,1)" font-size="3.9" text-anchor="middle" fill="#000">0.393</text>
<text transform="translate(65.9,663.49) scale(0.8,1)" font-size="4.8" text-anchor="end" fill="#666">10</text>
<rect x="34.7" y="659.24" width="17.3" height="5.16" fill="rgb(249,232,232)"/>
<rect x="66.5" y="664.8" width="58.5" height="4.21" fill="#FDCF99"/>
<rect x="125" y="664.8" width="68.1" height="4.21" fill="#E8282A"/>
<rect x="193.1" y="664.8" width="78.2" height="4.21" fill="#7EC8E6"/>
<text transform="translate(95.75,668.26) scale(0.8,1)" font-size="3.9" text-anchor="middle" fill="#000">0.286</text>
<text transform="translate(159.05,668.26) scale(0.8,1)" font-size="3.9" text-anchor="middle" fill="#000">0.333</text>
<text transform="translate(232.2,668.26) scale(0.8,1)" font-size="3.9" text-anchor="middle" fill="#000">0.382</text>
<text transform="translate(65.9,668.61) scale(0.8,1)" font-size="4.8" text-anchor="end" fill="#666">5</text>
<rect x="34.7" y="664.35" width="17.3" height="5.16" fill="rgb(250,234,234)"/>
<rect x="66.5" y="669.91" width="86.4" height="4.21" fill="#FDCF99"/>
<rect x="152.9" y="669.91" width="67.2" height="4.21" fill="#E8282A"/>
<rect x="220.1" y="669.91" width="51.2" height="4.21" fill="#7EC8E6"/>
<text transform="translate(109.7,673.37) scale(0.8,1)" font-size="3.9" text-anchor="middle" fill="#000">0.422</text>
<text transform="translate(186.5,673.37) scale(0.8,1)" font-size="3.9" text-anchor="middle" fill="#000">0.328</text>
<text transform="translate(245.7,673.37) scale(0.8,1)" font-size="3.9" text-anchor="middle" fill="#000">0.25</text>
<text transform="translate(65.9,673.72) scale(0.8,1)" font-size="4.8" text-anchor="end" fill="#666">15</text>
<rect x="34.7" y="669.46" width="17.3" height="5.16" fill="rgb(251,238,238)"/>
<rect x="66.5" y="675.02" width="59.4" height="4.21" fill="#FDCF99"/>
<rect x="125.9" y="675.02" width="65.9" height="4.21" fill="#E8282A"/>
<rect x="191.8" y="675.02" width="79.5" height="4.21" fill="#7EC8E6"/>
<text transform="translate(96.2,678.48) scale(0.8,1)" font-size="3.9" text-anchor="middle" fill="#000">0.29</text>
<text transform="translate(158.85,678.48) scale(0.8,1)" font-size="3.9" text-anchor="middle" fill="#000">0.322</text>
<text transform="translate(231.55,678.48) scale(0.8,1)" font-size="3.9" text-anchor="middle" fill="#000">0.388</text>
<text transform="translate(65.9,678.83) scale(0.8,1)" font-size="4.8" text-anchor="end" fill="#666">1</text>
<rect x="34.7" y="674.57" width="17.3" height="5.16" fill="rgb(251,241,241)"/>
<rect x="66.5" y="680.13" width="56.3" height="4.21" fill="#FDCF99"/>
<rect x="122.8" y="680.13" width="65.3" height="4.21" fill="#E8282A"/>
<rect x="188.1" y="680.13" width="83.2" height="4.21" fill="#7EC8E6"/>
<text transform="translate(94.65,683.59) scale(0.8,1)" font-size="3.9" text-anchor="middle" fill="#000">0.275</text>
<text transform="translate(155.45,683.59) scale(0.8,1)" font-size="3.9" text-anchor="middle" fill="#000">0.319</text>
<text transform="translate(229.7,683.59) scale(0.8,1)" font-size="3.9" text-anchor="middle" fill="#000">0.406</text>
<text transform="translate(65.9,683.94) scale(0.8,1)" font-size="4.8" text-anchor="end" fill="#666">18</text>
<rect x="34.7" y="679.68" width="17.3" height="5.16" fill="rgb(252,243,243)"/>
<rect x="66.5" y="685.24" width="57.5" height="4.21" fill="#FDCF99"/>
<rect x="124" y="685.24" width="64.1" height="4.21" fill="#E8282A"/>
<rect x="188.1" y="685.24" width="83.2" height="4.21" fill="#7EC8E6"/>
<text transform="translate(95.25,688.7) scale(0.8,1)" font-size="3.9" text-anchor="middle" fill="#000">0.281</text>
<text transform="translate(156.05,688.7) scale(0.8,1)" font-size="3.9" text-anchor="middle" fill="#000">0.313</text>
<text transform="translate(229.7,688.7) scale(0.8,1)" font-size="3.9" text-anchor="middle" fill="#000">0.406</text>
<text transform="translate(65.9,689.05) scale(0.8,1)" font-size="4.8" text-anchor="end" fill="#666">8</text>
<rect x="34.7" y="684.79" width="17.3" height="5.16" fill="rgb(253,248,248)"/>
<rect x="66.5" y="690.36" width="74.5" height="4.21" fill="#FDCF99"/>
<rect x="141" y="690.36" width="62" height="4.21" fill="#E8282A"/>
<rect x="203" y="690.36" width="68.3" height="4.21" fill="#7EC8E6"/>
<text transform="translate(103.75,693.81) scale(0.8,1)" font-size="3.9" text-anchor="middle" fill="#000">0.364</text>
<text transform="translate(172,693.81) scale(0.8,1)" font-size="3.9" text-anchor="middle" fill="#000">0.303</text>
<text transform="translate(237.15,693.81) scale(0.8,1)" font-size="3.9" text-anchor="middle" fill="#000">0.333</text>
<text transform="translate(65.9,694.16) scale(0.8,1)" font-size="4.8" text-anchor="end" fill="#666">4</text>
<rect x="34.7" y="689.91" width="17.3" height="5.16" fill="rgb(254,254,254)"/>
<rect x="66.5" y="695.47" width="50.3" height="4.21" fill="#FDCF99"/>
<rect x="116.8" y="695.47" width="61.2" height="4.21" fill="#E8282A"/>
<rect x="178" y="695.47" width="93.3" height="4.21" fill="#7EC8E6"/>
<text transform="translate(91.65,698.92) scale(0.8,1)" font-size="3.9" text-anchor="middle" fill="#000">0.246</text>
<text transform="translate(147.4,698.92) scale(0.8,1)" font-size="3.9" text-anchor="middle" fill="#000">0.299</text>
<text transform="translate(224.65,698.92) scale(0.8,1)" font-size="3.9" text-anchor="middle" fill="#000">0.456</text>
<text transform="translate(65.9,699.27) scale(0.8,1)" font-size="4.8" text-anchor="end" fill="#666">17</text>
<rect x="34.7" y="695.02" width="17.3" height="5.16" fill="rgb(255,255,255)"/>
<rect x="66.5" y="700.58" width="52.5" height="4.21" fill="#FDCF99"/>
<rect x="119" y="700.58" width="61.5" height="4.21" fill="#E8282A"/>
<rect x="180.5" y="700.58" width="90.8" height="4.21" fill="#7EC8E6"/>
<text transform="translate(92.75,704.03) scale(0.8,1)" font-size="3.9" text-anchor="middle" fill="#000">0.256</text>
<text transform="translate(149.75,704.03) scale(0.8,1)" font-size="3.9" text-anchor="middle" fill="#000">0.3</text>
<text transform="translate(225.9,704.03) scale(0.8,1)" font-size="3.9" text-anchor="middle" fill="#000">0.443</text>
<text transform="translate(65.9,704.38) scale(0.8,1)" font-size="4.8" text-anchor="end" fill="#666">2</text>
<rect x="34.7" y="700.13" width="17.3" height="5.16" fill="rgb(249,249,252)"/>
<rect x="66.5" y="705.69" width="59.4" height="4.21" fill="#FDCF99"/>
<rect x="125.9" y="705.69" width="57.1" height="4.21" fill="#E8282A"/>
<rect x="183" y="705.69" width="88.3" height="4.21" fill="#7EC8E6"/>
<text transform="translate(96.2,709.14) scale(0.8,1)" font-size="3.9" text-anchor="middle" fill="#000">0.29</text>
<text transform="translate(154.45,709.14) scale(0.8,1)" font-size="3.9" text-anchor="middle" fill="#000">0.279</text>
<text transform="translate(227.15,709.14) scale(0.8,1)" font-size="3.9" text-anchor="middle" fill="#000">0.431</text>
<text transform="translate(65.9,709.49) scale(0.8,1)" font-size="4.8" text-anchor="end" fill="#666">11</text>
<rect x="34.7" y="705.24" width="17.3" height="5.16" fill="rgb(239,239,247)"/>
<rect x="66.5" y="710.8" width="72" height="4.21" fill="#FDCF99"/>
<rect x="138.5" y="710.8" width="55.5" height="4.21" fill="#E8282A"/>
<rect x="194" y="710.8" width="77.3" height="4.21" fill="#7EC8E6"/>
<text transform="translate(102.5,714.26) scale(0.8,1)" font-size="3.9" text-anchor="middle" fill="#000">0.352</text>
<text transform="translate(166.25,714.26) scale(0.8,1)" font-size="3.9" text-anchor="middle" fill="#000">0.271</text>
<text transform="translate(232.65,714.26) scale(0.8,1)" font-size="3.9" text-anchor="middle" fill="#000">0.377</text>
<text transform="translate(65.9,714.61) scale(0.8,1)" font-size="4.8" text-anchor="end" fill="#666">7</text>
<rect x="34.7" y="710.35" width="17.3" height="5.16" fill="rgb(234,234,244)"/>
<rect x="66.5" y="715.91" width="79.8" height="4.21" fill="#FDCF99"/>
<rect x="146.3" y="715.91" width="55.3" height="4.21" fill="#E8282A"/>
<rect x="201.6" y="715.91" width="69.7" height="4.21" fill="#7EC8E6"/>
<text transform="translate(106.4,719.37) scale(0.8,1)" font-size="3.9" text-anchor="middle" fill="#000">0.39</text>
<text transform="translate(173.95,719.37) scale(0.8,1)" font-size="3.9" text-anchor="middle" fill="#000">0.27</text>
<text transform="translate(236.45,719.37) scale(0.8,1)" font-size="3.9" text-anchor="middle" fill="#000">0.34</text>
<text transform="translate(65.9,719.72) scale(0.8,1)" font-size="4.8" text-anchor="end" fill="#666">33</text>
<rect x="34.7" y="715.46" width="17.3" height="5.16" fill="rgb(233,233,244)"/>
<rect x="66.5" y="721.02" width="78.2" height="4.21" fill="#FDCF99"/>
<rect x="144.7" y="721.02" width="53.4" height="4.21" fill="#E8282A"/>
<rect x="198.1" y="721.02" width="73.2" height="4.21" fill="#7EC8E6"/>
<text transform="translate(105.6,724.48) scale(0.8,1)" font-size="3.9" text-anchor="middle" fill="#000">0.382</text>
<text transform="translate(171.4,724.48) scale(0.8,1)" font-size="3.9" text-anchor="middle" fill="#000">0.261</text>
<text transform="translate(234.7,724.48) scale(0.8,1)" font-size="3.9" text-anchor="middle" fill="#000">0.357</text>
<text transform="translate(65.9,724.83) scale(0.8,1)" font-size="4.8" text-anchor="end" fill="#666">30</text>
<rect x="34.7" y="720.57" width="17.3" height="5.16" fill="rgb(223,223,239)"/>
<rect x="66.5" y="726.13" width="67.6" height="4.21" fill="#FDCF99"/>
<rect x="134.1" y="726.13" width="50.8" height="4.21" fill="#E8282A"/>
<rect x="184.9" y="726.13" width="86.4" height="4.21" fill="#7EC8E6"/>
<text transform="translate(100.3,729.59) scale(0.8,1)" font-size="3.9" text-anchor="middle" fill="#000">0.33</text>
<text transform="translate(159.5,729.59) scale(0.8,1)" font-size="3.9" text-anchor="middle" fill="#000">0.248</text>
<text transform="translate(228.1,729.59) scale(0.8,1)" font-size="3.9" text-anchor="middle" fill="#000">0.422</text>
<text transform="translate(65.9,729.94) scale(0.8,1)" font-size="4.8" text-anchor="end" fill="#666">37</text>
<rect x="34.7" y="725.68" width="17.3" height="5.16" fill="rgb(217,217,236)"/>
<rect x="66.5" y="731.24" width="87" height="4.21" fill="#FDCF99"/>
<rect x="153.5" y="731.24" width="50.9" height="4.21" fill="#E8282A"/>
<rect x="204.4" y="731.24" width="66.9" height="4.21" fill="#7EC8E6"/>
<text transform="translate(110,734.7) scale(0.8,1)" font-size="3.9" text-anchor="middle" fill="#000">0.425</text>
<text transform="translate(178.95,734.7) scale(0.8,1)" font-size="3.9" text-anchor="middle" fill="#000">0.249</text>
<text transform="translate(237.85,734.7) scale(0.8,1)" font-size="3.9" text-anchor="middle" fill="#000">0.327</text>
<text transform="translate(65.9,735.05) scale(0.8,1)" font-size="4.8" text-anchor="end" fill="#666">26</text>
<rect x="34.7" y="730.79" width="17.3" height="5.16" fill="rgb(216,216,235)"/>
<rect x="66.5" y="736.36" width="51.5" height="4.21" fill="#FDCF99"/>
<rect x="118" y="736.36" width="50.3" height="4.21" fill="#E8282A"/>
<rect x="168.3" y="736.36" width="103" height="4.21" fill="#7EC8E6"/>
<text transform="translate(92.25,739.81) scale(0.8,1)" font-size="3.9" text-anchor="middle" fill="#000">0.251</text>
<text transform="translate(143.15,739.81) scale(0.8,1)" font-size="3.9" text-anchor="middle" fill="#000">0.246</text>
<text transform="translate(219.8,739.81) scale(0.8,1)" font-size="3.9" text-anchor="middle" fill="#000">0.503</text>
<text transform="translate(65.9,740.16) scale(0.8,1)" font-size="4.8" text-anchor="end" fill="#666">3</text>
<rect x="34.7" y="735.91" width="17.3" height="5.16" fill="rgb(214,214,234)"/>
<rect x="66.5" y="741.47" width="90.8" height="4.21" fill="#FDCF99"/>
<rect x="157.3" y="741.47" width="47.1" height="4.21" fill="#E8282A"/>
<rect x="204.4" y="741.47" width="66.9" height="4.21" fill="#7EC8E6"/>
<text transform="translate(111.9,744.92) scale(0.8,1)" font-size="3.9" text-anchor="middle" fill="#000">0.443</text>
<text transform="translate(180.85,744.92) scale(0.8,1)" font-size="3.9" text-anchor="middle" fill="#000">0.23</text>
<text transform="translate(237.85,744.92) scale(0.8,1)" font-size="3.9" text-anchor="middle" fill="#000">0.327</text>
<text transform="translate(65.9,745.27) scale(0.8,1)" font-size="4.8" text-anchor="end" fill="#666">28</text>
<rect x="34.7" y="741.02" width="17.3" height="5.16" fill="rgb(203,203,229)"/>
<rect x="66.5" y="746.58" width="96.5" height="4.21" fill="#FDCF99"/>
<rect x="163" y="746.58" width="45.8" height="4.21" fill="#E8282A"/>
<rect x="208.8" y="746.58" width="62.5" height="4.21" fill="#7EC8E6"/>
<text transform="translate(114.75,750.03) scale(0.8,1)" font-size="3.9" text-anchor="middle" fill="#000">0.471</text>
<text transform="translate(185.9,750.03) scale(0.8,1)" font-size="3.9" text-anchor="middle" fill="#000">0.224</text>
<text transform="translate(240.05,750.03) scale(0.8,1)" font-size="3.9" text-anchor="middle" fill="#000">0.305</text>
<text transform="translate(65.9,750.38) scale(0.8,1)" font-size="4.8" text-anchor="end" fill="#666">31</text>
<rect x="34.7" y="746.13" width="17.3" height="5.16" fill="rgb(201,201,228)"/>
<rect x="66.5" y="751.69" width="72.3" height="4.21" fill="#FDCF99"/>
<rect x="138.8" y="751.69" width="45.2" height="4.21" fill="#E8282A"/>
<rect x="184" y="751.69" width="87.3" height="4.21" fill="#7EC8E6"/>
<text transform="translate(102.65,755.14) scale(0.8,1)" font-size="3.9" text-anchor="middle" fill="#000">0.353</text>
<text transform="translate(161.4,755.14) scale(0.8,1)" font-size="3.9" text-anchor="middle" fill="#000">0.221</text>
<text transform="translate(227.65,755.14) scale(0.8,1)" font-size="3.9" text-anchor="middle" fill="#000">0.426</text>
<text transform="translate(65.9,755.49) scale(0.8,1)" font-size="4.8" text-anchor="end" fill="#666">23</text>
<rect x="34.7" y="751.24" width="17.3" height="5.16" fill="rgb(197,197,226)"/>
<rect x="66.5" y="756.8" width="83.9" height="4.21" fill="#FDCF99"/>
<rect x="150.4" y="756.8" width="44.9" height="4.21" fill="#E8282A"/>
<rect x="195.3" y="756.8" width="76" height="4.21" fill="#7EC8E6"/>
<text transform="translate(108.45,760.26) scale(0.8,1)" font-size="3.9" text-anchor="middle" fill="#000">0.41</text>
<text transform="translate(172.85,760.26) scale(0.8,1)" font-size="3.9" text-anchor="middle" fill="#000">0.219</text>
<text transform="translate(233.3,760.26) scale(0.8,1)" font-size="3.9" text-anchor="middle" fill="#000">0.371</text>
<text transform="translate(65.9,760.61) scale(0.8,1)" font-size="4.8" text-anchor="end" fill="#666">35</text>
<rect x="34.7" y="756.35" width="17.3" height="5.16" fill="rgb(195,195,225)"/>
<rect x="66.5" y="761.91" width="79.8" height="4.21" fill="#FDCF99"/>
<rect x="146.3" y="761.91" width="44.6" height="4.21" fill="#E8282A"/>
<rect x="190.9" y="761.91" width="80.4" height="4.21" fill="#7EC8E6"/>
<text transform="translate(106.4,765.37) scale(0.8,1)" font-size="3.9" text-anchor="middle" fill="#000">0.39</text>
<text transform="translate(168.6,765.37) scale(0.8,1)" font-size="3.9" text-anchor="middle" fill="#000">0.218</text>
<text transform="translate(231.1,765.37) scale(0.8,1)" font-size="3.9" text-anchor="middle" fill="#000">0.393</text>
<text transform="translate(65.9,765.72) scale(0.8,1)" font-size="4.8" text-anchor="end" fill="#666">16</text>
<rect x="34.7" y="761.46" width="17.3" height="5.16" fill="rgb(195,195,225)"/>
<rect x="66.5" y="767.02" width="70.7" height="4.21" fill="#FDCF99"/>
<rect x="137.2" y="767.02" width="42.7" height="4.21" fill="#E8282A"/>
<rect x="179.9" y="767.02" width="91.4" height="4.21" fill="#7EC8E6"/>
<text transform="translate(101.85,770.48) scale(0.8,1)" font-size="3.9" text-anchor="middle" fill="#000">0.345</text>
<text transform="translate(158.55,770.48) scale(0.8,1)" font-size="3.9" text-anchor="middle" fill="#000">0.208</text>
<text transform="translate(225.6,770.48) scale(0.8,1)" font-size="3.9" text-anchor="middle" fill="#000">0.446</text>
<text transform="translate(65.9,770.83) scale(0.8,1)" font-size="4.8" text-anchor="end" fill="#666">24</text>
<rect x="34.7" y="766.57" width="17.3" height="5.16" fill="rgb(189,189,222)"/>
<rect x="66.5" y="772.13" width="95.5" height="4.21" fill="#FDCF99"/>
<rect x="162" y="772.13" width="41.8" height="4.21" fill="#E8282A"/>
<rect x="203.8" y="772.13" width="67.5" height="4.21" fill="#7EC8E6"/>
<text transform="translate(114.25,775.59) scale(0.8,1)" font-size="3.9" text-anchor="middle" fill="#000">0.466</text>
<text transform="translate(182.9,775.59) scale(0.8,1)" font-size="3.9" text-anchor="middle" fill="#000">0.204</text>
<text transform="translate(237.55,775.59) scale(0.8,1)" font-size="3.9" text-anchor="middle" fill="#000">0.33</text>
<text transform="translate(65.9,775.94) scale(0.8,1)" font-size="4.8" text-anchor="end" fill="#666">14</text>
<rect x="34.7" y="771.68" width="17.3" height="5.16" fill="rgb(182,182,218)"/>
<rect x="66.5" y="777.24" width="90.8" height="4.21" fill="#FDCF99"/>
<rect x="157.3" y="777.24" width="40.8" height="4.21" fill="#E8282A"/>
<rect x="198.1" y="777.24" width="73.2" height="4.21" fill="#7EC8E6"/>
<text transform="translate(111.9,780.7) scale(0.8,1)" font-size="3.9" text-anchor="middle" fill="#000">0.443</text>
<text transform="translate(177.7,780.7) scale(0.8,1)" font-size="3.9" text-anchor="middle" fill="#000">0.199</text>
<text transform="translate(234.7,780.7) scale(0.8,1)" font-size="3.9" text-anchor="middle" fill="#000">0.357</text>
<text transform="translate(65.9,781.05) scale(0.8,1)" font-size="4.8" text-anchor="end" fill="#666">22</text>
<rect x="34.7" y="776.79" width="17.3" height="5.16" fill="rgb(181,181,218)"/>
<rect x="66.5" y="782.36" width="89.2" height="4.21" fill="#FDCF99"/>
<rect x="155.7" y="782.36" width="37.4" height="4.21" fill="#E8282A"/>
<rect x="193.1" y="782.36" width="78.2" height="4.21" fill="#7EC8E6"/>
<text transform="translate(111.1,785.81) scale(0.8,1)" font-size="3.9" text-anchor="middle" fill="#000">0.436</text>
<text transform="translate(174.4,785.81) scale(0.8,1)" font-size="3.9" text-anchor="middle" fill="#000">0.183</text>
<text transform="translate(232.2,785.81) scale(0.8,1)" font-size="3.9" text-anchor="middle" fill="#000">0.382</text>
<text transform="translate(65.9,786.16) scale(0.8,1)" font-size="4.8" text-anchor="end" fill="#666">27</text>
<rect x="34.7" y="781.91" width="17.3" height="5.16" fill="rgb(169,169,212)"/>
<rect x="66.5" y="787.47" width="50.3" height="4.21" fill="#FDCF99"/>
<rect x="116.8" y="787.47" width="34.2" height="4.21" fill="#E8282A"/>
<rect x="151" y="787.47" width="120.3" height="4.21" fill="#7EC8E6"/>
<text transform="translate(91.65,790.92) scale(0.8,1)" font-size="3.9" text-anchor="middle" fill="#000">0.246</text>
<text transform="translate(133.9,790.92) scale(0.8,1)" font-size="3.9" text-anchor="middle" fill="#000">0.167</text>
<text transform="translate(211.15,790.92) scale(0.8,1)" font-size="3.9" text-anchor="middle" fill="#000">0.587</text>
<text transform="translate(65.9,791.27) scale(0.8,1)" font-size="4.8" text-anchor="end" fill="#666">19</text>
<rect x="34.7" y="787.02" width="17.3" height="5.16" fill="rgb(158,158,206)"/>
<rect x="66.5" y="792.58" width="40" height="4.21" fill="#FDCF99"/>
<rect x="106.5" y="792.58" width="29.5" height="4.21" fill="#E8282A"/>
<rect x="136" y="792.58" width="135.3" height="4.21" fill="#7EC8E6"/>
<text transform="translate(86.5,796.03) scale(0.8,1)" font-size="3.9" text-anchor="middle" fill="#000">0.195</text>
<text transform="translate(121.25,796.03) scale(0.8,1)" font-size="3.9" text-anchor="middle" fill="#000">0.144</text>
<text transform="translate(203.65,796.03) scale(0.8,1)" font-size="3.9" text-anchor="middle" fill="#000">0.661</text>
<text transform="translate(65.9,796.38) scale(0.8,1)" font-size="4.8" text-anchor="end" fill="#666">34</text>
<rect x="34.7" y="792.13" width="17.3" height="5.16" fill="rgb(139,139,197)"/>
<rect x="66.5" y="797.69" width="24.9" height="4.21" fill="#FDCF99"/>
<rect x="91.4" y="797.69" width="24.5" height="4.21" fill="#E8282A"/>
<rect x="115.9" y="797.69" width="155.4" height="4.21" fill="#7EC8E6"/>
<text transform="translate(78.95,801.14) scale(0.8,1)" font-size="3.9" text-anchor="middle" fill="#000">0.122</text>
<text transform="translate(103.65,801.14) scale(0.8,1)" font-size="3.9" text-anchor="middle" fill="#000">0.12</text>
<text transform="translate(193.6,801.14) scale(0.8,1)" font-size="3.9" text-anchor="middle" fill="#000">0.759</text>
<text transform="translate(65.9,801.49) scale(0.8,1)" font-size="4.8" text-anchor="end" fill="#666">29</text>
<rect x="34.7" y="797.24" width="17.3" height="5.16" fill="rgb(123,123,189)"/>
<text transform="translate(60.3,688.5) rotate(-90)" font-size="11.1" text-anchor="middle" fill="#000">Cluster</text>
<text x="178.2" y="811.7" font-size="10.85" text-anchor="middle" fill="#000">Ratio of genes</text>
<text x="273.2" y="660.7" font-size="10" fill="#000">Ratio</text>
<defs><linearGradient id="gd" x1="0" y1="0" x2="0" y2="1"><stop offset="0" stop-color="#C52A2A"/><stop offset="0.482" stop-color="#FFFFFF"/><stop offset="1" stop-color="#000080"/></linearGradient></defs>
<rect x="274.7" y="662.8" width="8.1" height="55.2" fill="url(#gd)"/>
<line x1="274.7" x2="276.3" y1="673.5" y2="673.5" stroke="#fff" stroke-width="0.6"/>
<line x1="281.2" x2="282.8" y1="673.5" y2="673.5" stroke="#fff" stroke-width="0.6"/>
<text x="284" y="676.1" font-size="7.3" fill="#333">0.4</text>
<line x1="274.7" x2="276.3" y1="690" y2="690" stroke="#fff" stroke-width="0.6"/>
<line x1="281.2" x2="282.8" y1="690" y2="690" stroke="#fff" stroke-width="0.6"/>
<text x="284" y="692.6" font-size="7.3" fill="#333">0.3</text>
<line x1="274.7" x2="276.3" y1="705.1" y2="705.1" stroke="#fff" stroke-width="0.6"/>
<line x1="281.2" x2="282.8" y1="705.1" y2="705.1" stroke="#fff" stroke-width="0.6"/>
<text x="284" y="707.7" font-size="7.3" fill="#333">0.2</text>
<text x="273.6" y="732.0" font-size="10" fill="#000">Group</text>
<rect x="274.9" y="734.1" width="7.8" height="10.9" fill="#7EC8E6"/>
<text x="284.4" y="742.95" font-size="7.3" fill="#1a1a1a">P57</text>
<rect x="274.9" y="745.0" width="7.8" height="11" fill="#E8282A"/>
<text x="284.4" y="753.9" font-size="7.3" fill="#1a1a1a">Intersection</text>
<rect x="274.9" y="756.0" width="7.8" height="11" fill="#FDCF99"/>
<text x="284.4" y="764.9" font-size="7.3" fill="#1a1a1a">PL</text>
<text x="4.3" y="19" font-size="22" font-weight="bold" fill="#000">a</text>
<text x="452.3" y="19" font-size="22" font-weight="bold" fill="#000">b</text>
<text x="0.5" y="287.1" font-size="22" font-weight="bold" fill="#000">c</text>
<text x="4.6" y="615" font-size="22" font-weight="bold" fill="#000">d</text>
</svg></body></html>
